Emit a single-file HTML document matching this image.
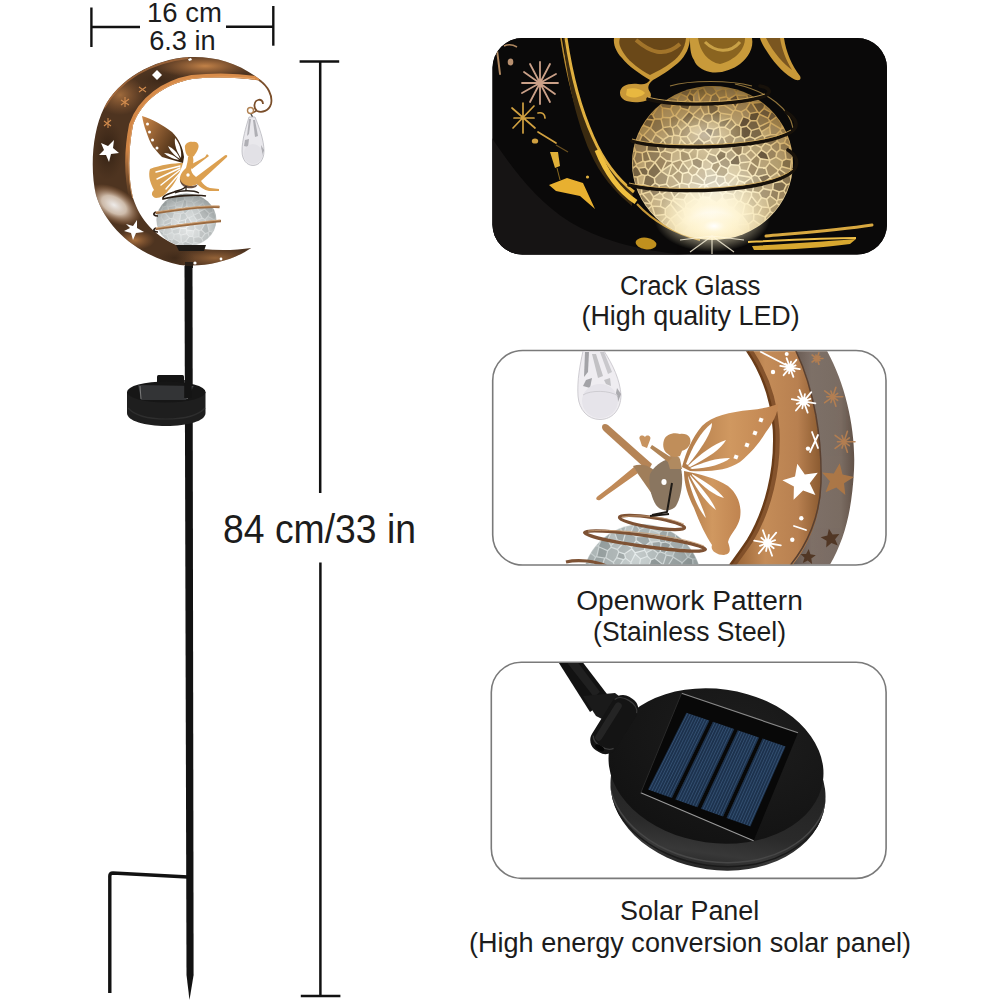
<!DOCTYPE html>
<html><head><meta charset="utf-8">
<style>
html,body{margin:0;padding:0;background:#fff;width:1000px;height:1000px;overflow:hidden}
svg{display:block}
text{font-family:"Liberation Sans",sans-serif;fill:#1c1c1c}
</style></head><body>
<svg width="1000" height="1000" viewBox="0 0 1000 1000">
<defs></defs>
<rect width="1000" height="1000" fill="#fff"/>

<!-- width dimension -->
<g stroke="#111" stroke-width="2.4" fill="none">
<line x1="91.4" y1="7.5" x2="91.4" y2="47"/>
<line x1="91.4" y1="27" x2="140" y2="27"/>
<line x1="226" y1="26.8" x2="273.5" y2="26.8"/>
<line x1="273.3" y1="6" x2="273.3" y2="45.7"/>
</g>
<text x="147" y="22.3" font-size="27" textLength="75" lengthAdjust="spacingAndGlyphs">16 cm</text>
<text x="149.2" y="50.2" font-size="27" textLength="66.5" lengthAdjust="spacingAndGlyphs">6.3 in</text>

<!-- height dimension -->
<g stroke="#111" stroke-width="2.5" fill="none">
<line x1="299.6" y1="61.4" x2="339.2" y2="61.4"/>
<line x1="320.2" y1="61.4" x2="320.2" y2="493"/>
<line x1="320.4" y1="562.5" x2="320.4" y2="996"/>
<line x1="300.8" y1="996" x2="340.4" y2="996"/>
</g>
<text x="223" y="543.1" font-size="40" textLength="193" lengthAdjust="spacingAndGlyphs">84 cm/33 in</text>

<!-- panels -->
<rect x="492.5" y="38" width="394.5" height="216.5" rx="30" fill="#0e0c0c"/>
<rect x="492.7" y="350.5" width="393.3" height="214.5" rx="30" fill="#fff" stroke="#7a7a7a" stroke-width="1.6"/>
<rect x="491.3" y="662.2" width="394.8" height="216.2" rx="30" fill="#fff" stroke="#7a7a7a" stroke-width="1.6"/>

<text x="620" y="294.8" font-size="27" textLength="140.5" lengthAdjust="spacingAndGlyphs">Crack Glass</text>
<text x="581.5" y="324.8" font-size="27" textLength="218.2" lengthAdjust="spacingAndGlyphs">(High quality LED)</text>
<text x="576.2" y="610.1" font-size="27" textLength="226.6" lengthAdjust="spacingAndGlyphs">Openwork Pattern</text>
<text x="593.1" y="641.3" font-size="27" textLength="193" lengthAdjust="spacingAndGlyphs">(Stainless Steel)</text>
<text x="620.1" y="920.4" font-size="27" textLength="139.2" lengthAdjust="spacingAndGlyphs">Solar Panel</text>
<text x="469" y="951.8" font-size="27" textLength="442" lengthAdjust="spacingAndGlyphs">(High energy conversion solar panel)</text>



<!-- PANEL 1 content -->
<defs>
<clipPath id="clip1"><rect x="492.5" y="38" width="394.5" height="216.5" rx="30"/></clipPath>
<radialGradient id="glowBall" cx="0.5" cy="0.7" r="0.7">
<stop offset="0" stop-color="#fffef4"/>
<stop offset="0.3" stop-color="#fbf0cc"/>
<stop offset="0.65" stop-color="#e8d098"/>
<stop offset="0.9" stop-color="#c49a50"/>
<stop offset="1" stop-color="#8a6a30"/>
</radialGradient>
<radialGradient id="glowSpot" cx="0.5" cy="0.5" r="0.5">
<stop offset="0" stop-color="#ffffff" stop-opacity="1"/>
<stop offset="0.4" stop-color="#fff6d8" stop-opacity="0.8"/>
<stop offset="1" stop-color="#fff0c0" stop-opacity="0"/>
</radialGradient>
<linearGradient id="goldG" x1="0" y1="0" x2="1" y2="0">
<stop offset="0" stop-color="#8a6020"/>
<stop offset="0.5" stop-color="#e0b040"/>
<stop offset="1" stop-color="#b88828"/>
</linearGradient>
</defs>
<g clip-path="url(#clip1)">
<rect x="490" y="36" width="400" height="220" fill="#0a0909"/>
<!-- subtle moon outer face -->
<path d="M492,138 C510,165 535,200 570,222 C600,240 640,252 700,256 L492,256Z" fill="#161414"/>
<!-- golden moon inner edge -->
<path d="M561,38 C566,70 574,105 586,135 C596,160 610,180 632,200" stroke="#b88a30" stroke-width="1.6" fill="none"/>
<path d="M566,38 C571,72 580,108 592,136 C602,158 614,176 633,190 L632,206 C615,192 600,175 590,152 C578,124 568,88 563,38Z" fill="#3a2a10"/>
<path d="M566,38 C571,72 580,108 593,137 C603,160 616,178 634,192" stroke="#e0b040" stroke-width="3" fill="none"/>
<path d="M597,150 C605,170 618,190 636,202" stroke="#f0c040" stroke-width="5" fill="none"/>
<path d="M637,204 C650,218 670,232 700,240" stroke="#c89838" stroke-width="2" fill="none"/>
<path d="M766,236 C800,233 840,230 872,225" stroke="#d8a840" stroke-width="3" fill="none" stroke-linecap="round"/>
<path d="M752,246 C780,244 820,242 856,239 L850,244 C820,248 785,250 754,250Z" fill="#d8a830"/>
<path d="M748,242 C790,240 830,238 856,238" stroke="#f0c048" stroke-width="2" fill="none"/>
<!-- stars and bits -->
<g stroke="#caa088" stroke-width="1.8" fill="none" stroke-linecap="round">
<path d="M524,72 L555,94 M556,74 L522,93 M540,62 L540,104 M530,64 L550,102 M550,64 L530,102 M522,83 L558,83"/>
</g>
<g stroke="#d0a040" stroke-width="1.7" fill="none" stroke-linecap="round">
<path d="M512,108 L535,128 M534,106 L513,128 M523,103 L523,133 M514,118 L534,118"/>
<path d="M538,132 L556,143"/>
<path d="M538,113 C542,112 545,114 545,118"/>
</g>
<path d="M497,50 L500,74" stroke="#b08860" stroke-width="2" stroke-linecap="round"/>
<path d="M504,46 C508,44 512,44 517,47" stroke="#b08860" stroke-width="1.5" fill="none"/>
<ellipse cx="510.5" cy="62" rx="2.8" ry="3.4" fill="#b89070"/>
<ellipse cx="535" cy="141" rx="3.2" ry="2.6" fill="#d0a040"/>
<path d="M556,145 L568,152" stroke="#6a5020" stroke-width="1.2"/>
<path d="M550,152 L558,152 L560,166 L555,168Z" fill="#e0b038"/>
<path d="M557,168 L560,180" stroke="#8a6a20" stroke-width="1"/>
<path d="M549,185 L567,178 L583,183 L595,209 L580,196 L556,191Z" fill="#e8b030"/>
<circle cx="587.5" cy="177" r="1.6" fill="#e0b040"/>
<ellipse cx="646" cy="243.5" rx="10.5" ry="5.8" transform="rotate(8 646 243.5)" fill="#c0901e"/>
<!-- fairy silhouette -->
<g>
<path d="M614,38 L690,38 C690,46 686,56 678,63 C670,70 660,76 653,80 C648,84 647,88 650,92 C653,97 649,101 640,102 C628,103 620,100 620,93 C620,86 628,83 638,84 C644,85 647,84 650,80 C640,74 628,66 622,58 C616,52 613,44 614,38Z" fill="#c89838"/>
<path d="M620,38 L686,38 C685,48 680,56 672,62 C664,68 656,72 650,75 C640,70 630,62 625,55 C620,48 618,43 620,38Z" fill="#6a4818"/>
<path d="M636,40 C650,52 664,58 680,44" stroke="#b08030" stroke-width="4" fill="none" opacity="0.8"/>
<path d="M627,89 C633,87 642,89 645,93 C641,98 630,99 626,95Z" fill="#e8b840"/>
<path d="M690,38 L752,38 C754,48 748,58 740,64 C732,70 720,74 710,72 C702,70 696,66 694,60 C690,54 690,46 690,38Z" fill="#c89a3a"/>
<path d="M698,38 L745,38 C745,50 735,60 720,64 C708,62 700,52 698,38Z" fill="#8a6420"/>
<path d="M705,42 C715,52 730,54 740,42" stroke="#d8b050" stroke-width="3" fill="none" opacity="0.8"/>
<path d="M760,38 L784,38 C786,52 792,66 800,76 C802,80 798,82 792,78 C782,72 772,60 766,50 C763,45 761,42 760,38Z" fill="#c89838"/>
<path d="M766,38 L780,38 C782,50 786,60 792,70 C784,64 774,54 766,38Z" fill="#7a5620"/>
</g>
<!-- glass ball -->
<ellipse cx="712.5" cy="163" rx="80.5" ry="77" fill="url(#glowBall)"/>
<g id="p1cells">
<path d="M696.9,88.5 L698.1,89.0 L701.8,87.4 L699.5,87.8 L696.9,88.2 L696.8,88.2Z" fill="#5a4830" fill-opacity="0.44"/>
<path d="M714.2,86.8 L716.6,90.3 L722.0,88.1 L721.8,87.3 L720.3,87.1 L717.7,86.9 L715.1,86.8Z" fill="#8a7450" fill-opacity="0.81"/>
<path d="M723.4,87.5 L723.5,88.0 L725.4,88.6 L726.9,88.0 L725.5,87.8Z" fill="#8a7450" fill-opacity="0.45"/>
<path d="M735.2,89.9 L736.3,91.3 L737.5,90.6 L735.7,90.0Z" fill="#5a4830" fill-opacity="0.51"/>
<path d="M672.8,96.9 L677.0,97.9 L679.9,93.8 L679.8,93.4 L679.6,93.6 L677.2,94.6 L674.9,95.8Z" fill="#8a7450" fill-opacity="0.45"/>
<path d="M681.4,93.4 L686.8,96.1 L688.9,92.8 L689.8,89.9 L689.3,90.0 L686.9,90.8 L684.4,91.6 L682.0,92.6 L681.2,92.9Z" fill="#5a4830" fill-opacity="0.66"/>
<path d="M693.4,94.5 L697.2,90.3 L696.1,89.8 L691.4,90.1 L690.5,92.8Z" fill="#5a4830" fill-opacity="0.58"/>
<path d="M700.2,99.7 L705.6,93.3 L703.0,88.6 L698.8,90.3 L698.8,90.4Z" fill="#4a3a26" fill-opacity="0.48"/>
<path d="M704.2,87.6 L707.0,92.8 L711.3,95.0 L715.2,92.6 L715.6,91.4 L712.8,87.5 L708.6,86.9 L707.3,86.9 L704.7,87.1 L704.5,87.1Z" fill="#6e5a3a" fill-opacity="0.69"/>
<path d="M717.0,91.8 L716.6,92.9 L719.7,97.2 L725.6,96.0 L724.8,89.9 L722.8,89.4Z" fill="#6e5a3a" fill-opacity="0.57"/>
<path d="M726.3,89.9 L727.2,96.2 L728.9,97.9 L729.1,97.9 L735.5,94.1 L735.4,92.6 L732.6,89.2 L730.6,88.7 L729.6,88.5Z" fill="#7a6444" fill-opacity="0.60"/>
<path d="M736.9,92.7 L737.0,94.3 L737.1,94.4 L746.2,94.8 L746.4,94.0 L745.4,93.6 L743.0,92.6 L740.6,91.6 L739.3,91.2Z" fill="#8a7450" fill-opacity="0.50"/>
<path d="M747.6,95.5 L749.4,101.1 L750.4,102.0 L751.1,102.0 L753.9,97.9 L752.4,97.0 L750.1,95.8 L747.8,94.6 L747.8,94.6Z" fill="#4a3a26" fill-opacity="0.72"/>
<path d="M668.7,99.3 L672.6,104.8 L677.6,103.2 L676.7,99.3 L670.9,97.9 L670.4,98.3Z" fill="#6e5a3a" fill-opacity="0.80"/>
<path d="M680.9,94.9 L678.1,98.9 L679.1,103.2 L679.4,103.5 L687.0,99.2 L686.4,97.6Z" fill="#7a6444" fill-opacity="0.57"/>
<path d="M687.9,97.1 L688.6,99.1 L691.8,101.7 L693.2,101.4 L692.8,95.9 L689.8,94.2Z" fill="#4a3a26" fill-opacity="0.79"/>
<path d="M694.7,101.3 L699.0,101.3 L697.5,92.1 L694.3,95.7Z" fill="#8a7450" fill-opacity="0.70"/>
<path d="M701.4,102.6 L707.8,102.8 L708.8,102.4 L710.5,96.2 L706.7,94.3 L700.5,101.7 L700.5,101.7Z" fill="#5a4830" fill-opacity="0.45"/>
<path d="M718.4,105.7 L718.4,105.6 L718.6,98.3 L715.6,94.1 L712.0,96.3 L710.4,102.5Z" fill="#6e5a3a" fill-opacity="0.85"/>
<path d="M726.3,97.4 L720.1,98.7 L720.0,105.1 L723.7,104.5 L727.6,98.7Z" fill="#5a4830" fill-opacity="0.52"/>
<path d="M736.1,95.5 L730.3,98.9 L735.3,106.6 L738.1,101.5Z" fill="#4a3a26" fill-opacity="0.83"/>
<path d="M747.7,100.8 L746.2,96.3 L737.8,95.9 L739.5,100.8Z" fill="#5a4830" fill-opacity="0.46"/>
<path d="M752.7,102.3 L759.9,101.7 L759.0,101.0 L756.8,99.6 L755.2,98.6Z" fill="#8a7450" fill-opacity="0.48"/>
<path d="M655.0,110.2 L654.3,110.9 L652.5,112.7 L651.9,113.4 L652.0,113.6 L652.5,113.9Z" fill="#5a4830" fill-opacity="0.60"/>
<path d="M661.0,104.9 L662.7,107.2 L670.2,108.3 L671.4,105.7 L667.5,100.1 L665.1,101.7 L663.9,102.5 L661.9,104.1 L661.0,104.8Z" fill="#5a4830" fill-opacity="0.66"/>
<path d="M671.5,109.1 L674.2,114.9 L675.2,115.0 L680.1,108.1 L678.7,104.8 L678.3,104.5 L672.8,106.3Z" fill="#6e5a3a" fill-opacity="0.43"/>
<path d="M680.3,104.7 L681.5,107.6 L688.0,109.3 L690.7,102.8 L687.9,100.4Z" fill="#4a3a26" fill-opacity="0.76"/>
<path d="M694.1,102.8 L692.1,103.2 L689.2,110.2 L689.5,110.9 L693.0,113.6 L699.8,107.2 L700.2,103.6 L699.4,102.8Z" fill="#8a7450" fill-opacity="0.65"/>
<path d="M707.3,104.3 L701.7,104.1 L701.3,107.4 L704.6,113.7 L708.2,112.9Z" fill="#5a4830" fill-opacity="0.45"/>
<path d="M717.5,109.9 L717.7,107.0 L709.5,103.7 L708.8,104.1 L709.7,113.0 L711.5,113.8Z" fill="#4a3a26" fill-opacity="0.68"/>
<path d="M732.5,111.4 L724.0,106.0 L719.5,106.6 L719.3,106.9 L719.0,110.2 L720.7,112.4 L731.0,114.1Z" fill="#8a7450" fill-opacity="0.58"/>
<path d="M728.9,99.4 L725.2,105.0 L733.5,110.2 L734.5,109.6 L734.6,108.3Z" fill="#8a7450" fill-opacity="0.56"/>
<path d="M745.5,108.6 L749.1,102.9 L748.4,102.3 L739.4,102.3 L736.1,108.3 L736.0,109.4 L741.1,111.0Z" fill="#7a6444" fill-opacity="0.62"/>
<path d="M750.4,112.7 L756.6,111.5 L751.5,103.7 L751.3,103.5 L750.5,103.5 L747.0,109.1Z" fill="#5a4830" fill-opacity="0.65"/>
<path d="M758.3,111.4 L759.3,112.1 L763.3,108.1 L764.0,105.5 L763.2,104.1 L763.1,104.1 L761.8,103.1 L753.4,103.8Z" fill="#4a3a26" fill-opacity="0.74"/>
<path d="M765.5,106.1 L764.8,108.2 L770.8,111.4 L771.1,111.3 L770.7,110.9 L768.9,109.1 L767.0,107.4 L765.5,106.0Z" fill="#7a6444" fill-opacity="0.50"/>
<path d="M647.7,118.6 L653.5,119.3 L653.8,119.0 L652.1,115.4 L651.0,114.7 L650.8,114.7 L649.2,116.6Z" fill="#4a3a26" fill-opacity="0.85"/>
<path d="M660.7,118.3 L661.9,117.3 L661.5,108.2 L659.9,106.0 L659.5,106.2 L653.5,115.0 L655.2,118.3Z" fill="#7a6444" fill-opacity="0.58"/>
<path d="M670.0,117.0 L672.8,115.3 L670.1,109.8 L663.0,108.8 L663.4,116.8Z" fill="#8a7450" fill-opacity="0.58"/>
<path d="M681.3,109.1 L676.5,115.7 L679.9,118.9 L681.2,119.1 L688.1,111.2 L687.9,110.9Z" fill="#7a6444" fill-opacity="0.46"/>
<path d="M689.0,112.4 L682.6,119.8 L687.4,123.8 L692.9,116.1 L692.5,115.1Z" fill="#4a3a26" fill-opacity="0.68"/>
<path d="M700.3,108.8 L694.0,114.8 L694.3,115.7 L700.1,118.9 L700.6,118.6 L703.4,114.5Z" fill="#7a6444" fill-opacity="0.62"/>
<path d="M708.9,114.3 L704.7,115.2 L702.2,119.0 L708.0,122.3 L711.6,120.2 L710.9,115.1Z" fill="#7a6444" fill-opacity="0.79"/>
<path d="M713.1,120.1 L718.2,122.8 L719.4,120.9 L719.6,113.3 L718.0,111.4 L712.4,115.0Z" fill="#4a3a26" fill-opacity="0.60"/>
<path d="M730.6,115.5 L721.0,114.0 L720.9,120.2 L730.5,117.6Z" fill="#8a7450" fill-opacity="0.52"/>
<path d="M735.3,110.8 L734.1,111.6 L732.1,115.1 L732.0,118.0 L732.1,118.4 L736.6,124.0 L738.6,124.6 L742.3,116.5 L740.6,112.4Z" fill="#8a7450" fill-opacity="0.53"/>
<path d="M743.7,116.0 L748.4,117.7 L749.3,113.7 L745.9,110.1 L742.2,112.1Z" fill="#8a7450" fill-opacity="0.71"/>
<path d="M758.8,114.2 L758.7,113.5 L757.6,112.8 L750.7,114.1 L749.7,118.5 L750.9,120.1 L756.2,120.0Z" fill="#4a3a26" fill-opacity="0.82"/>
<path d="M767.7,117.2 L769.8,112.6 L764.1,109.4 L760.2,113.3 L760.2,113.7Z" fill="#5a4830" fill-opacity="0.83"/>
<path d="M771.4,112.8 L768.9,118.2 L770.1,120.5 L775.8,116.6 L775.8,116.6 L774.2,114.6 L772.5,112.7 L772.2,112.5Z" fill="#5a4830" fill-opacity="0.85"/>
<path d="M644.4,125.1 L650.0,127.3 L652.8,120.7 L646.7,119.9 L646.2,120.7 L644.8,122.7 L644.2,123.7Z" fill="#4a3a26" fill-opacity="0.67"/>
<path d="M651.4,128.0 L655.6,132.3 L661.9,128.4 L662.4,127.5 L660.4,119.8 L655.0,119.8 L654.5,120.5Z" fill="#5a4830" fill-opacity="0.61"/>
<path d="M663.7,126.8 L669.7,125.9 L669.5,118.5 L662.9,118.3 L661.8,119.3Z" fill="#5a4830" fill-opacity="0.41"/>
<path d="M676.5,124.4 L678.7,119.8 L675.2,116.5 L673.9,116.4 L671.0,118.2 L671.2,126.1 L672.4,127.0Z" fill="#4a3a26" fill-opacity="0.47"/>
<path d="M677.9,124.8 L681.5,129.3 L686.4,125.0 L681.2,120.6 L680.0,120.4Z" fill="#7a6444" fill-opacity="0.55"/>
<path d="M688.5,124.9 L690.0,126.3 L697.9,124.4 L699.1,120.0 L694.0,117.2Z" fill="#6e5a3a" fill-opacity="0.66"/>
<path d="M701.1,120.1 L700.6,120.3 L699.4,124.9 L702.2,130.7 L704.3,130.4 L706.8,127.7 L707.2,123.6Z" fill="#7a6444" fill-opacity="0.77"/>
<path d="M708.7,123.6 L708.3,127.4 L713.8,128.5 L718.4,126.3 L717.9,124.3 L712.5,121.5Z" fill="#8a7450" fill-opacity="0.54"/>
<path d="M720.7,121.8 L719.3,123.9 L719.9,126.4 L719.9,126.4 L724.4,126.5 L730.1,119.2Z" fill="#4a3a26" fill-opacity="0.65"/>
<path d="M731.5,120.0 L725.8,127.0 L729.9,129.5 L735.1,124.6Z" fill="#5a4830" fill-opacity="0.56"/>
<path d="M739.9,125.3 L741.2,126.5 L746.3,125.5 L749.6,120.8 L748.4,119.3 L743.5,117.5Z" fill="#4a3a26" fill-opacity="0.83"/>
<path d="M756.2,121.5 L750.9,121.6 L747.7,126.1 L751.6,129.7 L758.7,127.6 L758.7,126.8Z" fill="#5a4830" fill-opacity="0.79"/>
<path d="M768.9,121.3 L767.6,118.8 L759.9,115.3 L757.5,120.7 L759.9,125.6Z" fill="#6e5a3a" fill-opacity="0.69"/>
<path d="M760.1,128.0 L761.7,130.8 L768.9,126.3 L769.8,122.9 L769.6,122.6 L760.2,127.1Z" fill="#6e5a3a" fill-opacity="0.75"/>
<path d="M770.9,121.8 L771.2,122.3 L780.7,128.1 L781.2,127.7 L781.6,125.0 L781.6,124.9 L780.2,122.7 L778.8,120.7 L777.3,118.6 L776.7,117.8Z" fill="#6e5a3a" fill-opacity="0.52"/>
<path d="M782.7,127.5 L783.1,127.5 L782.8,127.1 L782.8,127.0Z" fill="#8a7450" fill-opacity="0.42"/>
<path d="M643.1,134.7 L648.8,128.5 L643.8,126.4 L642.0,127.3 L641.0,129.3 L639.9,131.5 L639.7,132.0 L642.2,134.8Z" fill="#6e5a3a" fill-opacity="0.44"/>
<path d="M644.6,135.3 L650.9,140.5 L651.2,140.4 L654.8,134.2 L654.7,133.6 L650.3,129.1Z" fill="#7a6444" fill-opacity="0.59"/>
<path d="M656.3,133.9 L663.2,138.8 L667.6,136.1 L662.3,129.9 L656.2,133.7Z" fill="#7a6444" fill-opacity="0.45"/>
<path d="M669.1,135.5 L672.3,135.6 L673.1,135.0 L671.7,128.3 L670.3,127.3 L663.7,128.3 L663.4,128.8Z" fill="#4a3a26" fill-opacity="0.52"/>
<path d="M678.9,135.0 L680.5,130.5 L676.9,125.9 L673.2,128.2 L674.6,134.6Z" fill="#7a6444" fill-opacity="0.64"/>
<path d="M680.8,135.9 L686.8,135.8 L690.1,131.7 L689.1,127.5 L687.5,126.0 L682.0,130.8 L680.3,135.5Z" fill="#7a6444" fill-opacity="0.78"/>
<path d="M700.9,131.4 L698.2,125.9 L690.7,127.7 L691.5,131.3 L698.5,134.3Z" fill="#8a7450" fill-opacity="0.41"/>
<path d="M710.9,136.1 L712.9,129.8 L707.8,128.8 L705.8,131.1Z" fill="#4a3a26" fill-opacity="0.84"/>
<path d="M718.9,127.7 L714.5,129.8 L712.4,136.2 L719.7,135.4Z" fill="#5a4830" fill-opacity="0.60"/>
<path d="M721.3,135.8 L721.5,136.0 L723.5,136.8 L729.3,133.9 L729.3,130.8 L724.5,128.0 L720.4,127.9Z" fill="#7a6444" fill-opacity="0.43"/>
<path d="M736.3,125.5 L730.8,130.7 L730.8,134.0 L735.1,137.1 L740.1,135.6 L740.2,127.6 L738.7,126.1Z" fill="#6e5a3a" fill-opacity="0.79"/>
<path d="M741.6,135.9 L744.5,138.1 L749.3,136.1 L750.6,130.8 L746.5,127.0 L741.7,127.9Z" fill="#4a3a26" fill-opacity="0.80"/>
<path d="M759.0,129.0 L752.0,131.1 L750.8,136.2 L754.9,137.9 L761.6,134.7 L760.7,132.1Z" fill="#5a4830" fill-opacity="0.75"/>
<path d="M762.3,132.1 L763.2,134.6 L764.6,135.7 L769.7,134.1 L768.9,128.0Z" fill="#8a7450" fill-opacity="0.41"/>
<path d="M770.3,126.9 L771.2,134.0 L776.0,134.1 L779.4,130.6 L779.9,129.3 L771.1,124.0Z" fill="#8a7450" fill-opacity="0.72"/>
<path d="M782.1,128.9 L781.4,129.4 L780.9,130.8 L786.4,137.4 L787.6,137.3 L787.1,136.2 L786.2,133.8 L785.1,131.5 L784.0,129.3 L784.0,129.2Z" fill="#5a4830" fill-opacity="0.51"/>
<path d="M635.8,142.2 L638.6,141.2 L641.0,135.7 L639.0,133.4 L638.8,133.8 L637.9,136.2 L637.0,138.5 L636.2,140.9Z" fill="#7a6444" fill-opacity="0.53"/>
<path d="M647.0,144.1 L649.6,141.5 L643.3,136.1 L642.4,136.3 L640.1,141.4Z" fill="#4a3a26" fill-opacity="0.68"/>
<path d="M652.6,140.9 L657.5,145.5 L662.1,139.9 L655.8,135.4Z" fill="#8a7450" fill-opacity="0.82"/>
<path d="M664.2,140.0 L666.9,145.0 L671.2,143.2 L671.7,137.1 L669.0,137.0Z" fill="#5a4830" fill-opacity="0.47"/>
<path d="M680.0,139.2 L679.8,137.0 L679.1,136.5 L674.2,136.1 L673.2,136.8 L672.7,143.5 L677.3,148.1Z" fill="#8a7450" fill-opacity="0.55"/>
<path d="M686.8,144.4 L690.4,142.9 L686.7,137.3 L681.3,137.4 L681.5,139.0Z" fill="#8a7450" fill-opacity="0.64"/>
<path d="M698.0,137.6 L698.0,135.7 L691.1,132.8 L688.0,136.6 L692.0,142.7 L692.3,142.7Z" fill="#8a7450" fill-opacity="0.62"/>
<path d="M702.2,132.2 L699.5,135.4 L699.5,137.6 L704.2,141.7 L709.6,139.5 L710.2,137.5 L704.5,131.9Z" fill="#7a6444" fill-opacity="0.69"/>
<path d="M711.0,139.9 L714.5,144.7 L716.0,144.8 L720.1,136.9 L711.6,137.8Z" fill="#7a6444" fill-opacity="0.52"/>
<path d="M717.4,145.4 L719.6,147.0 L724.7,142.6 L723.0,138.2 L721.4,137.6Z" fill="#5a4830" fill-opacity="0.60"/>
<path d="M726.2,142.3 L731.4,145.3 L734.1,138.2 L730.0,135.3 L724.5,137.9Z" fill="#8a7450" fill-opacity="0.79"/>
<path d="M732.8,145.7 L742.4,145.3 L744.1,143.3 L743.7,139.4 L740.7,137.0 L735.6,138.5Z" fill="#4a3a26" fill-opacity="0.41"/>
<path d="M745.5,143.1 L750.4,146.1 L754.2,143.9 L754.2,139.2 L749.9,137.4 L745.2,139.4Z" fill="#4a3a26" fill-opacity="0.59"/>
<path d="M755.7,139.2 L755.7,143.9 L761.2,146.6 L764.3,142.7 L763.8,136.9 L762.5,135.9Z" fill="#6e5a3a" fill-opacity="0.65"/>
<path d="M765.3,137.0 L765.8,142.5 L770.8,144.8 L776.4,141.0 L775.6,135.6 L770.6,135.4Z" fill="#5a4830" fill-opacity="0.66"/>
<path d="M785.3,138.3 L780.0,132.1 L777.1,135.1 L777.9,141.0 L780.2,143.1 L783.8,142.2Z" fill="#8a7450" fill-opacity="0.54"/>
<path d="M788.1,138.8 L786.6,138.9 L785.3,142.6 L789.7,145.3 L790.0,145.0 L789.5,143.3 L788.8,140.9Z" fill="#6e5a3a" fill-opacity="0.57"/>
<path d="M633.8,150.4 L634.4,150.2 L634.1,149.3Z" fill="#7a6444" fill-opacity="0.80"/>
<path d="M636.0,150.3 L636.5,151.1 L642.1,152.1 L646.0,150.4 L646.4,145.5 L639.1,142.6 L635.3,144.0 L634.8,145.7 L634.7,146.4Z" fill="#7a6444" fill-opacity="0.71"/>
<path d="M647.5,150.4 L658.4,151.1 L656.9,147.1 L651.5,141.9 L651.2,142.0 L647.9,145.3Z" fill="#4a3a26" fill-opacity="0.76"/>
<path d="M665.7,146.0 L663.1,141.1 L658.4,146.8 L660.1,151.5 L660.5,151.9 L663.8,150.3Z" fill="#5a4830" fill-opacity="0.61"/>
<path d="M676.8,149.7 L671.7,144.6 L667.1,146.6 L665.4,150.4 L671.8,152.3Z" fill="#8a7450" fill-opacity="0.51"/>
<path d="M678.5,149.5 L680.2,150.5 L682.0,150.1 L685.6,145.4 L681.1,140.8Z" fill="#6e5a3a" fill-opacity="0.44"/>
<path d="M691.6,144.1 L687.1,145.9 L683.6,150.4 L688.5,152.3 L693.4,147.7 L691.9,144.2Z" fill="#8a7450" fill-opacity="0.52"/>
<path d="M694.9,147.3 L697.9,149.3 L702.7,147.9 L703.3,142.9 L698.7,139.0 L693.4,143.8Z" fill="#5a4830" fill-opacity="0.78"/>
<path d="M704.8,143.1 L704.2,148.2 L708.4,151.6 L713.1,145.4 L709.9,141.0Z" fill="#7a6444" fill-opacity="0.62"/>
<path d="M714.4,146.2 L709.3,152.8 L709.3,152.9 L715.6,155.0 L719.5,150.1 L718.9,148.4 L716.2,146.3Z" fill="#6e5a3a" fill-opacity="0.39"/>
<path d="M720.5,148.2 L721.0,149.7 L726.2,152.1 L730.7,149.0 L731.0,146.8 L725.7,143.7Z" fill="#7a6444" fill-opacity="0.41"/>
<path d="M741.3,153.3 L741.9,146.9 L732.5,147.3 L732.2,149.2 L737.0,154.3 L738.8,154.9Z" fill="#7a6444" fill-opacity="0.83"/>
<path d="M745.2,153.6 L750.1,149.4 L749.8,147.5 L745.0,144.6 L743.5,146.4 L742.8,153.1Z" fill="#8a7450" fill-opacity="0.52"/>
<path d="M756.4,154.2 L760.6,149.6 L760.6,148.0 L755.0,145.2 L751.3,147.4 L751.6,149.3Z" fill="#6e5a3a" fill-opacity="0.44"/>
<path d="M770.8,148.2 L770.2,146.2 L765.3,143.9 L762.1,147.8 L762.1,149.5 L766.7,152.5Z" fill="#8a7450" fill-opacity="0.61"/>
<path d="M777.1,142.3 L771.7,146.0 L772.2,148.0 L776.7,151.5 L779.3,149.3 L779.2,144.2Z" fill="#4a3a26" fill-opacity="0.44"/>
<path d="M784.3,143.7 L780.7,144.5 L780.8,149.1 L784.9,150.4 L789.2,147.7 L789.1,146.7Z" fill="#4a3a26" fill-opacity="0.50"/>
<path d="M632.9,158.0 L633.3,158.0 L635.2,151.9 L635.0,151.6 L633.6,152.1 L633.4,153.1 L633.1,155.5Z" fill="#5a4830" fill-opacity="0.57"/>
<path d="M634.6,158.7 L636.8,163.2 L642.1,160.7 L641.5,153.5 L636.6,152.6Z" fill="#7a6444" fill-opacity="0.81"/>
<path d="M646.5,151.8 L643.0,153.3 L643.6,160.6 L645.1,161.1 L649.7,160.1Z" fill="#6e5a3a" fill-opacity="0.76"/>
<path d="M659.3,155.8 L659.6,153.1 L659.1,152.6 L648.2,151.9 L651.3,160.1 L654.7,161.6Z" fill="#5a4830" fill-opacity="0.61"/>
<path d="M664.5,151.7 L661.1,153.3 L660.9,155.7 L666.8,160.0 L670.5,160.6 L671.1,153.7Z" fill="#7a6444" fill-opacity="0.61"/>
<path d="M679.3,151.7 L677.8,150.8 L672.6,153.6 L671.9,161.2 L672.3,161.5 L679.8,159.2Z" fill="#8a7450" fill-opacity="0.42"/>
<path d="M690.2,158.9 L688.1,153.8 L682.4,151.5 L680.9,151.9 L681.3,159.4 L683.0,161.0Z" fill="#6e5a3a" fill-opacity="0.57"/>
<path d="M689.6,153.4 L691.8,158.9 L696.3,157.3 L697.0,150.5 L694.4,148.8Z" fill="#8a7450" fill-opacity="0.52"/>
<path d="M698.5,150.7 L697.8,157.4 L702.7,160.0 L705.3,158.4 L707.9,153.4 L707.8,153.1 L703.2,149.3Z" fill="#8a7450" fill-opacity="0.44"/>
<path d="M706.9,158.8 L712.6,163.1 L717.6,161.2 L715.3,156.5 L709.1,154.4Z" fill="#4a3a26" fill-opacity="0.42"/>
<path d="M716.8,155.9 L719.0,160.7 L725.1,156.9 L725.5,153.4 L720.6,151.2Z" fill="#5a4830" fill-opacity="0.69"/>
<path d="M731.3,150.4 L727.0,153.3 L726.6,157.1 L729.9,160.1 L735.5,154.9Z" fill="#5a4830" fill-opacity="0.43"/>
<path d="M740.8,162.1 L749.9,161.1 L750.0,160.6 L745.0,155.1 L742.2,154.5 L739.8,156.1Z" fill="#5a4830" fill-opacity="0.39"/>
<path d="M750.9,159.3 L755.2,155.1 L750.8,150.7 L746.5,154.5Z" fill="#7a6444" fill-opacity="0.52"/>
<path d="M766.3,153.9 L761.4,150.9 L757.7,155.0 L760.6,158.1 L768.4,159.2Z" fill="#4a3a26" fill-opacity="0.80"/>
<path d="M770.0,159.2 L775.3,156.7 L775.9,152.8 L771.7,149.4 L767.7,153.6Z" fill="#8a7450" fill-opacity="0.82"/>
<path d="M780.2,150.5 L777.5,152.9 L776.8,156.8 L782.3,160.0 L785.2,158.6 L784.3,151.8Z" fill="#7a6444" fill-opacity="0.50"/>
<path d="M789.8,149.0 L785.8,151.6 L786.7,158.4 L790.7,158.9 L792.0,156.6 L791.9,155.5 L791.6,153.1 L791.2,150.6 L791.1,150.4Z" fill="#5a4830" fill-opacity="0.56"/>
<path d="M633.1,166.8 L635.3,165.5 L635.6,164.3 L633.4,159.5 L632.8,159.5 L632.8,160.5 L632.8,163.0 L632.8,165.5 L632.9,166.8Z" fill="#6e5a3a" fill-opacity="0.83"/>
<path d="M644.4,162.5 L643.0,162.0 L637.0,164.7 L636.8,165.7 L638.6,167.4 L644.7,166.7Z" fill="#7a6444" fill-opacity="0.41"/>
<path d="M648.3,169.5 L653.8,162.8 L650.7,161.5 L645.9,162.5 L646.2,167.0Z" fill="#7a6444" fill-opacity="0.71"/>
<path d="M655.9,162.5 L661.2,170.0 L665.6,161.0 L660.2,157.1Z" fill="#8a7450" fill-opacity="0.83"/>
<path d="M670.8,162.1 L667.0,161.6 L663.5,168.8 L671.3,163.5 L671.3,162.6Z" fill="#7a6444" fill-opacity="0.68"/>
<path d="M678.3,170.0 L682.1,162.5 L682.1,162.2 L680.4,160.6 L672.8,162.9 L672.8,163.5Z" fill="#8a7450" fill-opacity="0.66"/>
<path d="M688.6,168.5 L691.7,164.9 L691.0,160.3 L683.6,162.4 L683.6,162.4Z" fill="#8a7450" fill-opacity="0.42"/>
<path d="M699.2,168.1 L701.4,167.1 L702.0,161.3 L697.0,158.7 L692.5,160.2 L693.2,164.6Z" fill="#5a4830" fill-opacity="0.53"/>
<path d="M705.5,169.1 L710.3,167.8 L711.6,164.3 L705.9,159.9 L703.5,161.3 L702.9,167.2Z" fill="#7a6444" fill-opacity="0.30"/>
<path d="M715.9,171.9 L719.8,165.6 L718.3,162.5 L713.1,164.6 L711.8,168.2Z" fill="#6e5a3a" fill-opacity="0.54"/>
<path d="M725.7,158.3 L719.7,162.0 L721.3,165.1 L727.4,167.8 L729.9,164.6 L729.3,161.5Z" fill="#5a4830" fill-opacity="0.47"/>
<path d="M736.7,155.8 L730.8,161.4 L731.3,164.1 L738.6,164.5 L739.5,162.8 L738.3,156.3Z" fill="#4a3a26" fill-opacity="0.68"/>
<path d="M740.7,163.6 L739.9,165.3 L741.1,169.3 L746.9,169.9 L749.7,162.6Z" fill="#6e5a3a" fill-opacity="0.41"/>
<path d="M756.5,155.9 L751.5,160.7 L751.3,161.7 L751.3,161.8 L758.0,166.7 L759.5,159.1Z" fill="#8a7450" fill-opacity="0.80"/>
<path d="M760.9,159.7 L759.6,166.7 L765.4,167.1 L768.7,162.8 L768.9,160.8Z" fill="#8a7450" fill-opacity="0.55"/>
<path d="M770.2,162.7 L778.4,169.2 L779.1,168.8 L780.9,166.3 L781.5,161.3 L775.9,158.0 L770.4,160.7Z" fill="#6e5a3a" fill-opacity="0.44"/>
<path d="M786.2,159.8 L783.0,161.4 L782.4,166.0 L789.8,167.9 L790.7,160.4Z" fill="#6e5a3a" fill-opacity="0.81"/>
<path d="M792.1,161.3 L791.2,168.7 L791.7,169.6 L791.9,169.5 L792.1,168.0 L792.2,165.5 L792.2,163.0 L792.2,161.3Z" fill="#5a4830" fill-opacity="0.39"/>
<path d="M637.2,176.3 L640.8,174.4 L637.7,168.7 L635.9,166.9 L633.8,168.2 L633.1,169.9 L633.1,170.5 L633.4,172.9 L633.8,175.4 L633.9,176.0Z" fill="#5a4830" fill-opacity="0.80"/>
<path d="M639.5,168.8 L642.3,174.0 L645.0,174.8 L647.1,174.2 L647.5,170.9 L645.1,168.1Z" fill="#4a3a26" fill-opacity="0.70"/>
<path d="M648.6,174.3 L654.1,177.2 L660.3,171.3 L654.9,163.8 L649.0,170.9Z" fill="#5a4830" fill-opacity="0.73"/>
<path d="M662.5,171.3 L668.1,174.7 L670.7,165.7Z" fill="#5a4830" fill-opacity="0.37"/>
<path d="M672.4,165.3 L669.5,175.0 L671.8,175.0 L677.0,170.8Z" fill="#6e5a3a" fill-opacity="0.49"/>
<path d="M679.6,170.6 L682.8,172.7 L687.7,171.6 L687.9,169.9 L683.0,164.1Z" fill="#5a4830" fill-opacity="0.44"/>
<path d="M689.4,170.0 L689.1,171.9 L692.3,174.7 L695.5,173.6 L698.1,169.2 L692.6,166.1Z" fill="#8a7450" fill-opacity="0.46"/>
<path d="M697.0,174.1 L704.0,179.9 L705.6,176.2 L704.7,170.4 L702.0,168.4 L699.7,169.5Z" fill="#7a6444" fill-opacity="0.36"/>
<path d="M707.0,175.5 L715.5,174.1 L715.4,173.5 L710.7,169.3 L706.2,170.5Z" fill="#4a3a26" fill-opacity="0.22"/>
<path d="M724.0,175.9 L727.4,172.4 L726.9,169.2 L721.0,166.6 L716.9,173.2 L717.0,174.4 L717.6,175.3Z" fill="#6e5a3a" fill-opacity="0.45"/>
<path d="M737.1,174.6 L739.7,169.9 L738.5,166.0 L731.0,165.6 L728.4,168.9 L728.9,172.2 L735.9,175.3 L736.5,175.4Z" fill="#8a7450" fill-opacity="0.29"/>
<path d="M751.2,176.4 L747.0,171.4 L740.9,170.8 L738.9,174.5 L751.1,176.6Z" fill="#4a3a26" fill-opacity="0.28"/>
<path d="M748.2,170.6 L752.3,175.4 L754.2,174.5 L757.2,167.9 L751.0,163.4Z" fill="#7a6444" fill-opacity="0.68"/>
<path d="M758.7,168.2 L755.8,174.7 L758.2,175.7 L766.6,173.7 L765.1,168.6 L758.8,168.2Z" fill="#5a4830" fill-opacity="0.52"/>
<path d="M766.5,168.1 L768.2,173.9 L770.4,176.2 L776.7,171.8 L777.4,170.3 L769.5,164.1Z" fill="#7a6444" fill-opacity="0.64"/>
<path d="M779.5,170.3 L778.9,170.6 L778.1,172.2 L781.9,177.6 L784.8,174.1Z" fill="#7a6444" fill-opacity="0.82"/>
<path d="M781.9,167.4 L780.6,169.2 L786.1,173.2 L789.1,173.3 L790.4,170.4 L789.9,169.5Z" fill="#8a7450" fill-opacity="0.73"/>
<path d="M791.0,176.3 L791.2,175.4 L791.6,172.9 L791.8,171.1 L791.7,171.1 L790.4,174.1Z" fill="#6e5a3a" fill-opacity="0.42"/>
<path d="M636.0,184.5 L637.6,183.9 L636.7,177.8 L634.2,177.5 L634.3,177.9 L634.8,180.3 L635.5,182.7Z" fill="#7a6444" fill-opacity="0.71"/>
<path d="M642.4,183.9 L644.1,176.1 L641.9,175.5 L638.2,177.5 L639.1,183.7 L641.8,184.2Z" fill="#8a7450" fill-opacity="0.39"/>
<path d="M653.6,178.6 L647.7,175.6 L645.6,176.2 L643.9,183.9 L650.5,186.1 L654.2,182.8Z" fill="#5a4830" fill-opacity="0.73"/>
<path d="M659.2,184.6 L665.9,183.5 L667.6,176.2 L661.4,172.3 L655.1,178.4 L655.7,182.6Z" fill="#5a4830" fill-opacity="0.49"/>
<path d="M669.1,176.5 L667.3,184.0 L669.9,186.9 L678.3,183.6 L671.7,176.5Z" fill="#7a6444" fill-opacity="0.41"/>
<path d="M678.4,171.6 L673.2,175.8 L679.7,182.9 L680.9,182.5 L681.8,173.9 L678.4,171.6Z" fill="#7a6444" fill-opacity="0.55"/>
<path d="M683.3,174.2 L682.5,182.4 L688.2,183.8 L690.2,181.9 L691.4,175.9 L688.1,173.1Z" fill="#7a6444" fill-opacity="0.38"/>
<path d="M692.8,176.2 L691.8,181.7 L702.1,184.1 L703.8,183.7 L703.6,181.5 L695.9,175.1Z" fill="#6e5a3a" fill-opacity="0.32"/>
<path d="M705.7,184.3 L714.9,180.4 L716.3,176.1 L715.9,175.5 L706.9,177.0 L705.1,181.2 L705.3,183.9Z" fill="#4a3a26" fill-opacity="0.25"/>
<path d="M719.4,185.0 L724.6,181.4 L723.7,177.4 L717.7,176.8 L716.4,180.9Z" fill="#4a3a26" fill-opacity="0.23"/>
<path d="M726.1,181.3 L728.1,182.9 L734.4,176.3 L728.4,173.6 L725.1,176.9Z" fill="#8a7450" fill-opacity="0.30"/>
<path d="M737.9,180.6 L736.3,176.9 L736.0,176.9 L729.1,184.1 L729.7,185.5 L735.0,186.2Z" fill="#6e5a3a" fill-opacity="0.22"/>
<path d="M750.0,177.9 L738.1,175.9 L737.7,176.3 L739.3,180.0 L744.4,181.8Z" fill="#4a3a26" fill-opacity="0.27"/>
<path d="M754.4,183.4 L761.3,182.9 L757.6,177.1 L754.8,175.9 L752.6,176.8 L752.2,177.7 L752.2,177.9Z" fill="#4a3a26" fill-opacity="0.38"/>
<path d="M769.6,177.5 L769.6,177.5 L767.3,175.1 L759.3,177.0 L762.7,182.2Z" fill="#4a3a26" fill-opacity="0.66"/>
<path d="M781.1,179.1 L777.1,173.4 L771.1,177.6 L771.1,177.7 L773.8,182.1 L781.4,180.9Z" fill="#8a7450" fill-opacity="0.54"/>
<path d="M790.0,178.0 L789.0,174.8 L786.2,174.7 L782.6,179.1 L782.9,181.1 L786.7,184.0 L789.5,183.0 L789.5,182.7 L790.0,181.0Z" fill="#5a4830" fill-opacity="0.67"/>
<path d="M639.7,194.1 L640.9,193.4 L641.1,185.6 L638.5,185.1 L636.5,186.0 L637.0,187.5 L637.9,189.8 L638.8,192.2Z" fill="#8a7450" fill-opacity="0.55"/>
<path d="M642.4,193.1 L649.2,190.9 L649.8,187.5 L643.1,185.2 L642.6,185.4Z" fill="#4a3a26" fill-opacity="0.61"/>
<path d="M659.0,192.8 L658.3,185.8 L655.1,184.0 L651.3,187.4 L650.7,191.3 L653.7,195.8Z" fill="#4a3a26" fill-opacity="0.54"/>
<path d="M662.1,193.5 L669.0,188.7 L669.0,188.0 L666.2,185.0 L659.9,186.0 L660.5,192.7Z" fill="#7a6444" fill-opacity="0.56"/>
<path d="M678.8,191.9 L678.7,185.0 L670.5,188.2 L670.5,188.9 L674.3,196.5Z" fill="#5a4830" fill-opacity="0.41"/>
<path d="M680.2,184.4 L680.3,191.6 L687.3,193.2 L689.3,192.2 L689.3,192.1 L687.8,185.2 L681.7,183.8Z" fill="#6e5a3a" fill-opacity="0.28"/>
<path d="M690.6,191.1 L696.9,189.0 L700.6,185.3 L691.2,183.1 L689.3,184.9Z" fill="#7a6444" fill-opacity="0.24"/>
<path d="M701.7,196.4 L704.5,185.2 L704.4,185.1 L702.4,185.5 L698.2,189.8 L701.2,196.8Z" fill="#7a6444" fill-opacity="0.19"/>
<path d="M718.2,190.6 L718.4,186.3 L715.3,181.9 L707.1,185.3 L712.7,190.5Z" fill="#6e5a3a" fill-opacity="0.20"/>
<path d="M728.4,186.1 L727.6,184.4 L725.4,182.7 L719.9,186.5 L719.7,191.0 L722.5,193.7 L724.8,192.3Z" fill="#6e5a3a" fill-opacity="0.14"/>
<path d="M729.6,187.0 L726.5,192.3 L733.3,193.5 L735.8,189.6 L734.9,187.7Z" fill="#4a3a26" fill-opacity="0.21"/>
<path d="M737.2,189.1 L743.5,191.6 L745.3,190.7 L743.8,183.2 L739.1,181.6 L736.2,187.0Z" fill="#7a6444" fill-opacity="0.21"/>
<path d="M753.2,184.3 L751.0,179.0 L745.3,183.0 L746.7,190.5 L751.5,191.5 L752.0,191.2Z" fill="#5a4830" fill-opacity="0.42"/>
<path d="M758.8,191.9 L762.4,188.5 L761.7,184.4 L754.6,184.9 L753.5,191.1Z" fill="#6e5a3a" fill-opacity="0.49"/>
<path d="M763.1,183.8 L763.9,188.1 L771.2,189.6 L772.0,189.0 L772.6,183.1 L770.1,179.0Z" fill="#7a6444" fill-opacity="0.45"/>
<path d="M774.1,183.5 L773.5,188.9 L779.1,191.0 L783.3,190.1 L785.6,185.1 L782.0,182.3Z" fill="#4a3a26" fill-opacity="0.68"/>
<path d="M787.1,185.4 L784.7,190.7 L785.9,192.7 L786.2,192.2 L787.1,189.8 L788.0,187.5 L788.8,185.1 L788.9,184.8Z" fill="#5a4830" fill-opacity="0.69"/>
<path d="M649.3,202.8 L642.1,194.7 L641.8,194.6 L640.4,195.5 L641.0,196.7 L642.2,198.9 L643.4,201.1 L644.1,202.1Z" fill="#5a4830" fill-opacity="0.58"/>
<path d="M652.7,197.0 L649.6,192.4 L643.8,194.3 L650.8,202.3 L652.4,198.5Z" fill="#7a6444" fill-opacity="0.49"/>
<path d="M662.8,197.4 L661.6,195.0 L659.8,194.1 L654.1,197.3 L654.0,198.0 L661.1,199.3Z" fill="#8a7450" fill-opacity="0.32"/>
<path d="M672.2,199.8 L673.3,198.1 L673.3,197.9 L669.4,190.2 L663.1,194.7 L664.3,196.9 L671.6,200.3Z" fill="#7a6444" fill-opacity="0.31"/>
<path d="M675.1,197.8 L683.7,199.1 L686.3,194.5 L679.8,193.0Z" fill="#6e5a3a" fill-opacity="0.25"/>
<path d="M693.8,198.6 L689.7,193.6 L688.0,194.6 L684.9,200.0 L686.4,203.4Z" fill="#6e5a3a" fill-opacity="0.09"/>
<path d="M690.9,192.6 L695.4,198.1 L698.4,199.6 L700.0,197.8 L696.9,190.6Z" fill="#7a6444" fill-opacity="0.13"/>
<path d="M705.8,186.1 L703.3,196.2 L709.2,196.8 L711.5,191.5Z" fill="#7a6444" fill-opacity="0.15"/>
<path d="M716.6,202.0 L721.6,197.6 L721.6,194.9 L718.6,192.1 L712.9,192.0 L710.5,197.5 L711.4,199.1Z" fill="#5a4830" fill-opacity="0.09"/>
<path d="M725.5,193.6 L723.1,195.0 L723.1,197.6 L725.2,199.4 L733.8,197.9 L733.0,195.0Z" fill="#5a4830" fill-opacity="0.13"/>
<path d="M734.4,194.4 L735.4,198.1 L738.2,200.8 L739.8,200.5 L742.6,192.8 L736.9,190.6Z" fill="#4a3a26" fill-opacity="0.15"/>
<path d="M750.8,192.9 L746.2,191.9 L744.2,192.9 L741.3,200.8 L745.0,203.2 L747.0,203.1 L750.7,196.1Z" fill="#7a6444" fill-opacity="0.21"/>
<path d="M758.6,193.4 L752.8,192.5 L752.3,192.7 L752.2,196.0 L757.3,202.3 L760.6,197.5Z" fill="#6e5a3a" fill-opacity="0.28"/>
<path d="M766.4,198.3 L769.4,195.5 L770.4,191.0 L763.5,189.5 L760.0,192.9 L762.0,197.0Z" fill="#4a3a26" fill-opacity="0.44"/>
<path d="M777.1,199.6 L778.2,192.3 L772.8,190.2 L772.0,190.8 L770.9,195.5 L776.9,199.9Z" fill="#5a4830" fill-opacity="0.59"/>
<path d="M783.5,191.6 L779.7,192.4 L778.7,199.1 L783.1,198.5 L784.0,196.7 L785.1,194.5 L785.2,194.3Z" fill="#7a6444" fill-opacity="0.67"/>
<path d="M645.1,203.8 L646.2,205.3 L647.7,207.4 L648.2,208.1 L650.9,205.7 L650.5,204.5Z" fill="#5a4830" fill-opacity="0.43"/>
<path d="M651.8,203.8 L652.4,205.5 L659.9,205.7 L660.5,200.7 L653.6,199.5Z" fill="#7a6444" fill-opacity="0.35"/>
<path d="M663.9,198.4 L662.1,200.4 L661.3,206.0 L665.2,207.9 L669.9,203.7 L670.8,201.6Z" fill="#5a4830" fill-opacity="0.33"/>
<path d="M672.8,201.3 L672.4,201.6 L671.4,204.1 L677.6,212.0 L682.7,208.9Z" fill="#4a3a26" fill-opacity="0.18"/>
<path d="M685.0,207.2 L685.2,204.6 L683.6,200.6 L674.4,199.2 L673.8,200.1 L683.8,207.9Z" fill="#5a4830" fill-opacity="0.10"/>
<path d="M686.5,207.2 L690.8,208.8 L698.1,202.0 L697.9,201.0 L695.0,199.6 L686.7,204.9Z" fill="#4a3a26" fill-opacity="0.04"/>
<path d="M709.9,199.6 L709.2,198.3 L702.5,197.6 L701.3,198.5 L699.3,200.7 L699.6,201.9 L703.7,206.6 L704.1,206.6Z" fill="#6e5a3a" fill-opacity="0.02"/>
<path d="M737.0,201.7 L734.5,199.3 L726.1,200.8 L728.7,205.8 L733.2,206.9Z" fill="#6e5a3a" fill-opacity="0.05"/>
<path d="M741.6,214.5 L741.8,214.3 L744.0,204.4 L740.2,201.9 L738.4,202.2 L734.4,207.9 L734.9,209.4 L741.4,214.6Z" fill="#7a6444" fill-opacity="0.10"/>
<path d="M751.6,197.6 L748.4,203.5 L753.0,206.4 L756.5,203.7Z" fill="#5a4830" fill-opacity="0.32"/>
<path d="M758.2,203.7 L762.2,206.2 L767.7,206.7 L766.0,199.8 L761.8,198.5Z" fill="#6e5a3a" fill-opacity="0.25"/>
<path d="M769.3,207.1 L769.7,207.5 L776.0,202.9 L776.2,201.3 L770.1,196.8 L767.5,199.4Z" fill="#6e5a3a" fill-opacity="0.44"/>
<path d="M779.6,204.2 L780.2,203.3 L781.6,201.1 L782.2,200.1 L778.2,200.6 L777.7,201.2 L777.5,202.9Z" fill="#6e5a3a" fill-opacity="0.38"/>
<path d="M651.6,207.1 L649.1,209.3 L649.2,209.4 L650.8,211.4 L652.5,213.3 L653.9,214.7Z" fill="#6e5a3a" fill-opacity="0.35"/>
<path d="M664.5,213.7 L664.5,209.2 L660.4,207.2 L653.2,207.0 L655.5,214.8Z" fill="#6e5a3a" fill-opacity="0.39"/>
<path d="M676.4,213.5 L676.5,213.2 L670.4,205.3 L666.0,209.1 L666.0,214.2 L667.1,216.1 L670.6,218.1Z" fill="#8a7450" fill-opacity="0.19"/>
<path d="M678.0,213.5 L677.9,213.8 L682.8,219.1 L684.7,216.8 L683.0,210.4Z" fill="#7a6444" fill-opacity="0.09"/>
<path d="M684.3,209.4 L686.1,216.2 L692.1,216.1 L693.1,215.5 L690.4,210.3 L685.8,208.5 L684.3,209.4Z" fill="#5a4830" fill-opacity="0.02"/>
<path d="M747.3,204.6 L745.5,204.7 L743.5,213.8 L752.3,212.6 L752.3,207.7Z" fill="#8a7450" fill-opacity="0.18"/>
<path d="M753.8,207.7 L753.8,213.0 L754.2,213.4 L757.7,213.4 L761.0,207.2 L757.4,205.0Z" fill="#7a6444" fill-opacity="0.33"/>
<path d="M762.4,207.7 L759.2,213.8 L765.0,216.2 L769.3,211.2 L768.9,208.8 L768.3,208.2Z" fill="#8a7450" fill-opacity="0.39"/>
<path d="M773.2,212.4 L774.2,211.4 L775.8,209.4 L777.3,207.4 L778.8,205.4 L776.8,204.2 L770.5,208.8 L770.8,211.0Z" fill="#6e5a3a" fill-opacity="0.50"/>
<path d="M655.5,216.3 L656.1,216.9 L658.0,218.6 L659.9,220.3 L661.1,221.3 L665.6,216.5 L664.9,215.2Z" fill="#6e5a3a" fill-opacity="0.26"/>
<path d="M662.3,222.2 L663.9,223.5 L665.4,224.5 L665.8,224.7 L669.8,219.4 L666.7,217.6Z" fill="#5a4830" fill-opacity="0.25"/>
<path d="M671.6,219.2 L675.9,225.6 L682.1,221.3 L682.1,220.6 L677.0,215.0Z" fill="#8a7450" fill-opacity="0.09"/>
<path d="M738.4,224.0 L746.8,223.5 L741.6,216.1 L739.5,218.8Z" fill="#6e5a3a" fill-opacity="0.03"/>
<path d="M742.9,215.4 L748.5,223.3 L752.8,219.8 L753.1,214.4 L752.8,214.1Z" fill="#4a3a26" fill-opacity="0.16"/>
<path d="M754.6,214.9 L754.3,219.7 L760.4,223.9 L761.1,223.5 L763.1,221.9 L764.3,220.9 L764.5,217.6 L758.0,214.9Z" fill="#4a3a26" fill-opacity="0.19"/>
<path d="M765.9,219.6 L767.0,218.6 L768.9,216.9 L770.7,215.1 L772.2,213.5 L770.2,212.4 L766.0,217.4Z" fill="#5a4830" fill-opacity="0.35"/>
<path d="M667.0,225.6 L668.2,226.4 L670.4,227.7 L672.6,229.0 L674.8,230.2 L674.9,226.8 L670.7,220.6Z" fill="#5a4830" fill-opacity="0.12"/>
<path d="M684.2,231.2 L688.1,226.5 L687.6,225.5 L682.8,222.6 L676.4,227.0 L676.3,230.7 L676.8,231.2 L677.2,231.4 L679.3,232.3Z" fill="#8a7450" fill-opacity="0.04"/>
<path d="M738.1,225.5 L738.8,228.1 L745.5,232.4 L747.8,231.4 L748.0,231.3 L748.2,231.1 L747.7,224.9Z" fill="#7a6444" fill-opacity="0.04"/>
<path d="M749.7,230.5 L750.1,230.2 L752.4,229.0 L754.6,227.7 L756.8,226.4 L759.0,225.0 L759.1,224.9 L753.6,221.1 L749.2,224.6Z" fill="#7a6444" fill-opacity="0.16"/>

</g>
<ellipse cx="712" cy="218" rx="58" ry="34" fill="url(#glowSpot)"/>
<ellipse cx="714" cy="226" rx="26" ry="14" fill="url(#glowSpot)"/>
<ellipse cx="705" cy="135" rx="40" ry="24" fill="url(#glowSpot)" opacity="0.4"/>
<!-- spiral rings -->
<g fill="none" stroke="#c8a050" stroke-width="1.2" opacity="0.7">
<path d="M670,86 C690,80 730,80 752,86"/>
<path d="M735,84 C770,92 790,110 793,128"/>
</g>
<g fill="none" stroke="#17110a" stroke-width="3.6" stroke-linecap="round">
<path d="M648,99 C670,106 735,106 765,96 C772,92 770,88 760,86"/>
<path d="M632,141 C660,150 760,150 791,132 C800,126 796,118 786,112"/>
<path d="M629,185 C670,195 770,192 793,171 C800,163 796,155 788,150"/>
</g>
<g fill="none" stroke="#d8b060" stroke-width="1" opacity="0.85">
<path d="M648,97 C670,104 735,104 765,94"/>
<path d="M632,139 C660,148 760,148 791,130"/>
<path d="M629,183 C670,193 770,190 793,169"/>
</g>
<!-- light burst -->
<g stroke="#fff8e0" stroke-width="1.2" opacity="0.8">
<path d="M712,236 L690,252 M712,236 L734,252 M712,236 L712,254 M712,236 L680,240 M712,236 L744,240"/>
</g>
</g>


<!-- PANEL 2 content -->
<defs>
<clipPath id="clip2"><rect x="493.5" y="351.3" width="391.7" height="213" rx="29"/></clipPath>
<linearGradient id="copperFace" x1="0" y1="0" x2="1" y2="0">
<stop offset="0" stop-color="#6a3e1c"/>
<stop offset="0.12" stop-color="#a06a3a"/>
<stop offset="0.4" stop-color="#c48c58"/>
<stop offset="0.75" stop-color="#b88050"/>
<stop offset="1" stop-color="#8a5a30"/>
</linearGradient>
<linearGradient id="greyBand" x1="0" y1="0" x2="1" y2="0">
<stop offset="0" stop-color="#5e5048"/>
<stop offset="0.35" stop-color="#7e7068"/>
<stop offset="0.8" stop-color="#7a6c62"/>
<stop offset="1" stop-color="#625248"/>
</linearGradient>
<linearGradient id="wingG" x1="0" y1="0" x2="1" y2="0">
<stop offset="0" stop-color="#b07a48"/>
<stop offset="0.5" stop-color="#d09860"/>
<stop offset="1" stop-color="#c08450"/>
</linearGradient>
<linearGradient id="bodyG" x1="0" y1="0" x2="1" y2="1">
<stop offset="0" stop-color="#c08a58"/>
<stop offset="0.5" stop-color="#8a7058"/>
<stop offset="1" stop-color="#b08050"/>
</linearGradient>
<radialGradient id="ball2G" cx="0.45" cy="0.25" r="0.75">
<stop offset="0" stop-color="#e8eeee"/>
<stop offset="0.5" stop-color="#c4cccc"/>
<stop offset="1" stop-color="#8a9494"/>
</radialGradient>
</defs>
<g clip-path="url(#clip2)">
<!-- grey outer band -->
<path d="M795,349 C815,390 822,440 821,483 C820,515 808,545 788,568 L828,568 C845,540 852,510 854,470 C856,430 846,385 826,349Z" fill="url(#greyBand)"/>
<!-- copper face -->
<path d="M746,349 C762,372 772,400 774,430 C776,470 766,510 748,540 C740,552 734,560 728,568 L790,568 C810,545 821,515 821,483 C822,440 815,390 795,349Z" fill="url(#copperFace)"/>
<path d="M749,349 C765,372 775,400 777,430 C779,470 769,510 751,540 C743,552 737,560 731,568" stroke="#7a4a26" stroke-width="5" fill="none" opacity="0.85"/>
<path d="M746,349 C762,372 772,400 774,430 C776,470 766,510 748,540 C740,552 734,560 728,568" stroke="#6a3c18" stroke-width="2.5" fill="none"/>
<path d="M795,349 C815,390 822,440 821,483 C820,515 808,545 788,568" stroke="#5a4030" stroke-width="1.5" fill="none"/>
<!-- white star cutouts on copper -->
<g fill="#fff">
<path d="M797.3,463.7 L804.8,474.5 L817.8,472.8 L809.8,483.2 L815.4,495.0 L803.1,490.6 L793.6,499.7 L793.9,486.6 L782.4,480.3 L795.0,476.6Z"/>
<circle cx="773.0" cy="372.0" r="2.2"/>
<circle cx="786.7" cy="354.0" r="2.0"/>
<circle cx="808.0" cy="448.6" r="2.2"/>
<circle cx="801.3" cy="518.3" r="2.2"/>
<circle cx="792.3" cy="539.7" r="2.2"/>
</g>
<g stroke="#fff" stroke-width="1.8" fill="none" stroke-linecap="round">
<path d="M790.0,367.5 L799.8,369.2 M790.0,367.5 L794.6,371.4 M790.0,367.5 L793.4,376.9 M790.0,367.5 L789.0,373.4 M790.0,367.5 L783.6,375.2 M790.0,367.5 L784.4,369.6 M790.0,367.5 L780.2,365.8 M790.0,367.5 L785.4,363.6 M790.0,367.5 L786.6,358.1 M790.0,367.5 L791.0,361.6 M790.0,367.5 L796.4,359.8 M790.0,367.5 L795.6,365.4"/>
<path d="M803.6,401.3 L815.4,403.4 M803.6,401.3 L809.1,405.9 M803.6,401.3 L807.7,412.6 M803.6,401.3 L802.3,408.4 M803.6,401.3 L795.9,410.5 M803.6,401.3 L796.8,403.8 M803.6,401.3 L791.8,399.2 M803.6,401.3 L798.1,396.7 M803.6,401.3 L799.5,390.0 M803.6,401.3 L804.9,394.2 M803.6,401.3 L811.3,392.1 M803.6,401.3 L810.4,398.8"/>
<path d="M767.5,543.0 L780.8,545.3 M767.5,543.0 L773.7,548.2 M767.5,543.0 L772.1,555.7 M767.5,543.0 L766.1,551.0 M767.5,543.0 L758.8,553.3 M767.5,543.0 L759.9,545.8 M767.5,543.0 L754.2,540.7 M767.5,543.0 L761.3,537.8 M767.5,543.0 L762.9,530.3 M767.5,543.0 L768.9,535.0 M767.5,543.0 L776.2,532.7 M767.5,543.0 L775.1,540.2"/>
<path d="M760.8,351.8 L788,366"/>
<path d="M812,432 L818,448 M818,435 L810,452" />
<path d="M794,526 L806,530"/>
</g>
<g fill="#fff"><circle cx="790" cy="367.5" r="3.5"/><circle cx="803.6" cy="401.3" r="4"/><circle cx="767.5" cy="543" r="4.2"/></g>
<g fill="#b07844" opacity="0.9">
<path d="M839.7,463.2 L842.5,474.6 L854.0,477.0 L844.0,483.3 L845.3,495.0 L836.3,487.4 L825.5,492.2 L829.9,481.3 L822.0,472.5 L833.8,473.4Z"/>
</g>
<g stroke="#b88050" stroke-width="1.6" fill="none" stroke-linecap="round" opacity="0.9">
<path d="M817.0,358.5 L823.0,358.5 M817.0,358.5 L819.9,360.6 M817.0,358.5 L818.9,364.2 M817.0,358.5 L815.9,361.9 M817.0,358.5 L812.1,362.0 M817.0,358.5 L813.4,358.5 M817.0,358.5 L812.1,355.0 M817.0,358.5 L815.9,355.1 M817.0,358.5 L818.9,352.8 M817.0,358.5 L819.9,356.4"/>
<path d="M832.8,396.8 L842.8,396.8 M832.8,396.8 L837.7,400.3 M832.8,396.8 L835.9,406.3 M832.8,396.8 L830.9,402.5 M832.8,396.8 L824.7,402.7 M832.8,396.8 L826.8,396.8 M832.8,396.8 L824.7,390.9 M832.8,396.8 L830.9,391.1 M832.8,396.8 L835.9,387.3 M832.8,396.8 L837.7,393.3"/>
<path d="M844.0,441.8 L855.0,441.8 M844.0,441.8 L849.3,445.7 M844.0,441.8 L847.4,452.3 M844.0,441.8 L842.0,448.1 M844.0,441.8 L835.1,448.3 M844.0,441.8 L837.4,441.8 M844.0,441.8 L835.1,435.3 M844.0,441.8 L842.0,435.5 M844.0,441.8 L847.4,431.3 M844.0,441.8 L849.3,437.9"/>
</g>
<g fill="#4a2e1a" opacity="0.85">
<path d="M828.9,528.8 L832.6,534.6 L839.4,533.9 L835.1,539.2 L837.8,545.5 L831.4,543.0 L826.2,547.6 L826.6,540.7 L820.7,537.2 L827.4,535.5Z"/>
<path d="M808.7,549.0 L810.4,554.3 L815.8,555.2 L811.3,558.4 L812.1,563.9 L807.7,560.6 L802.8,563.0 L804.5,557.8 L800.6,553.9 L806.1,553.9Z"/>
</g>
<!-- crystal drop -->
<path d="M583,351 L604,351 C613,365 620,380 621,395 C621,410 612,419.5 600,419.5 C588,419.5 579,410 578,396 C577,380 580,365 583,351Z" fill="#efedf1" stroke="#c4c2c8" stroke-width="0.8"/>
<g fill="#8a8a8e" opacity="0.75">
<path d="M585,352 L589,352 L588,372 L584,377Z"/>
<path d="M592,354 L596,354 L603,376 L598,378Z" opacity="0.6"/>
<path d="M600,352 L604,352 L612,372 L608,374Z" opacity="0.5"/>
<path d="M586,380 L592,378 L590,388 L583,386Z"/>
<path d="M604,380 L610,378 L611,386 L606,384Z" opacity="0.6"/>
<path d="M617,388 L621,394 L618,402 L615,398Z" opacity="0.9"/>
</g>
<ellipse cx="600" cy="401" rx="18" ry="17" fill="#e6e4ea"/>
<path d="M583,395 C590,390 610,390 618,396" stroke="#c8c6cc" stroke-width="0.8" fill="none"/>
<!-- ball -->
<circle cx="642" cy="584" r="60" fill="url(#ball2G)"/>
<g>
<path d="M621.1,528.4 L622.1,530.5 L624.1,530.9 L625.3,527.0 L624.8,527.2 L622.9,527.8Z" fill="#6a7474" fill-opacity="0.37"/>
<path d="M637.0,524.8 L639.8,528.9 L648.1,525.1 L648.0,524.9 L647.8,524.9 L645.9,524.7 L643.9,524.6 L642.0,524.6 L640.1,524.6 L638.1,524.7Z" fill="#5a6464" fill-opacity="0.43"/>
<path d="M649.9,525.1 L649.8,525.1 L649.3,525.1 L649.4,525.1 L649.5,525.3Z" fill="#7a8484" fill-opacity="0.26"/>
<path d="M612.8,532.3 L614.7,532.5 L620.9,530.6 L620.0,528.8 L619.3,529.1 L617.5,529.9 L615.7,530.7 L614.0,531.6Z" fill="#5a6464" fill-opacity="0.23"/>
<path d="M626.7,526.6 L625.2,531.4 L625.9,532.2 L630.0,533.0 L633.3,525.3 L632.3,525.4 L630.4,525.7 L628.5,526.2Z" fill="#7a8484" fill-opacity="0.26"/>
<path d="M635.9,536.0 L638.9,529.7 L635.6,524.9 L634.7,525.1 L631.1,533.4Z" fill="#5a6464" fill-opacity="0.37"/>
<path d="M647.7,535.7 L649.9,529.1 L648.9,526.3 L648.7,526.2 L640.0,530.1 L637.2,536.1Z" fill="#7a8484" fill-opacity="0.45"/>
<path d="M651.1,528.7 L659.1,532.1 L662.2,530.0 L662.1,528.1 L661.1,527.8 L659.2,527.2 L657.4,526.6 L655.5,526.2 L653.6,525.7 L652.3,525.5 L650.1,526.3Z" fill="#8a9494" fill-opacity="0.27"/>
<path d="M663.3,528.6 L663.4,529.8 L667.9,531.0 L668.6,530.9 L668.3,530.7 L666.5,529.9 L664.7,529.1Z" fill="#7a8484" fill-opacity="0.22"/>
<path d="M598.0,545.4 L599.3,542.7 L598.6,543.4 L597.3,544.8 L596.9,545.3Z" fill="#6a7474" fill-opacity="0.35"/>
<path d="M603.0,539.2 L607.4,539.2 L609.6,534.2 L609.0,534.6 L607.4,535.7 L605.8,536.9 L604.3,538.1Z" fill="#4e5858" fill-opacity="0.44"/>
<path d="M611.1,544.7 L616.6,539.7 L614.3,533.6 L611.6,533.3 L611.3,533.5 L608.4,539.7Z" fill="#5a6464" fill-opacity="0.23"/>
<path d="M617.7,539.4 L622.6,541.1 L624.9,532.9 L624.2,532.1 L621.7,531.6 L615.5,533.5Z" fill="#5a6464" fill-opacity="0.44"/>
<path d="M630.1,534.2 L626.0,533.5 L623.6,541.9 L623.8,542.7 L631.5,546.5 L635.5,540.4 L635.5,537.1Z" fill="#5a6464" fill-opacity="0.40"/>
<path d="M636.7,537.3 L636.7,540.3 L644.9,545.4 L649.6,541.6 L647.7,536.9Z" fill="#6a7474" fill-opacity="0.52"/>
<path d="M650.8,541.3 L651.9,541.6 L658.7,540.8 L658.6,533.2 L650.9,529.9 L648.7,536.3Z" fill="#7a8484" fill-opacity="0.24"/>
<path d="M659.9,541.1 L661.2,542.1 L664.9,541.7 L667.1,532.1 L662.9,530.9 L659.8,533.1Z" fill="#5a6464" fill-opacity="0.40"/>
<path d="M668.4,532.2 L666.1,541.8 L669.5,542.8 L675.0,537.0 L674.8,534.5 L673.4,533.6 L671.7,532.6 L670.3,531.8Z" fill="#6a7474" fill-opacity="0.40"/>
<path d="M676.2,537.0 L683.7,543.0 L684.5,542.5 L684.0,542.0 L682.6,540.6 L681.2,539.3 L679.7,538.1 L678.2,536.9 L676.6,535.7 L676.1,535.3Z" fill="#6a7474" fill-opacity="0.54"/>
<path d="M595.8,556.5 L596.1,556.3 L598.3,547.1 L598.0,546.6 L596.0,546.4 L594.9,547.8 L593.7,549.4 L592.6,551.0 L591.6,552.6 L591.4,552.9Z" fill="#8a9494" fill-opacity="0.41"/>
<path d="M601.7,540.4 L599.1,546.0 L599.4,546.5 L607.5,549.9 L610.5,547.0 L610.3,545.8 L607.4,540.4Z" fill="#4e5858" fill-opacity="0.44"/>
<path d="M611.7,546.7 L617.3,548.8 L622.6,543.0 L622.4,542.3 L617.4,540.6 L611.5,545.9Z" fill="#4e5858" fill-opacity="0.25"/>
<path d="M624.4,553.2 L631.2,548.6 L631.1,547.7 L623.4,543.9 L618.2,549.6 L619.2,551.6Z" fill="#4e5858" fill-opacity="0.31"/>
<path d="M632.3,547.4 L632.4,548.6 L635.3,552.1 L644.0,549.8 L644.3,546.5 L636.2,541.4Z" fill="#4e5858" fill-opacity="0.33"/>
<path d="M645.2,550.1 L646.5,551.9 L652.3,549.0 L651.3,542.7 L650.5,542.5 L645.5,546.5Z" fill="#5a6464" fill-opacity="0.20"/>
<path d="M653.6,549.0 L658.1,552.5 L659.7,551.4 L660.4,543.0 L659.1,542.0 L652.5,542.8Z" fill="#6a7474" fill-opacity="0.50"/>
<path d="M669.3,544.0 L665.3,542.8 L661.6,543.2 L660.9,551.4 L664.6,552.8 L669.9,545.4Z" fill="#4e5858" fill-opacity="0.46"/>
<path d="M670.4,543.6 L671.1,545.1 L675.4,549.0 L681.9,547.6 L683.0,543.9 L675.6,538.1Z" fill="#4e5858" fill-opacity="0.30"/>
<path d="M684.2,544.1 L683.0,548.0 L688.1,556.8 L691.4,551.1 L691.4,551.0 L690.3,549.4 L689.1,547.8 L687.9,546.3 L686.7,544.8 L685.4,543.4 L685.3,543.4Z" fill="#6a7474" fill-opacity="0.26"/>
<path d="M594.9,557.3 L590.8,554.0 L590.6,554.3 L589.6,556.0 L588.7,557.7 L587.9,559.5 L587.1,561.3 L587.0,561.6 L590.0,562.9 L592.5,562.3Z" fill="#7a8484" fill-opacity="0.41"/>
<path d="M605.4,557.2 L606.9,551.0 L599.4,547.8 L597.4,556.3 L604.7,557.5Z" fill="#5a6464" fill-opacity="0.47"/>
<path d="M613.2,561.6 L616.1,557.4 L618.1,552.1 L617.0,550.0 L611.3,547.9 L608.1,550.9 L606.6,557.4Z" fill="#8a9494" fill-opacity="0.53"/>
<path d="M617.4,557.3 L623.5,559.0 L624.9,558.1 L624.0,554.4 L619.1,552.8Z" fill="#5a6464" fill-opacity="0.45"/>
<path d="M625.2,554.1 L626.2,558.0 L630.7,561.4 L634.5,554.0 L634.5,553.0 L631.7,549.7Z" fill="#5a6464" fill-opacity="0.24"/>
<path d="M635.7,553.3 L635.7,553.8 L640.7,558.2 L646.7,556.1 L645.8,553.0 L644.3,551.0Z" fill="#4e5858" fill-opacity="0.24"/>
<path d="M651.1,559.0 L654.7,557.9 L657.3,553.4 L652.9,550.1 L647.1,553.0 L648.0,556.1Z" fill="#7a8484" fill-opacity="0.39"/>
<path d="M665.5,555.1 L664.5,554.1 L660.3,552.5 L658.5,553.6 L655.8,558.3 L662.8,563.8Z" fill="#4e5858" fill-opacity="0.32"/>
<path d="M672.3,555.4 L674.5,549.8 L670.7,546.4 L665.6,553.5 L666.5,554.4Z" fill="#7a8484" fill-opacity="0.32"/>
<path d="M673.7,556.8 L682.1,562.0 L687.0,557.3 L682.1,548.7 L675.7,550.2 L673.3,556.1Z" fill="#5a6464" fill-opacity="0.37"/>
<path d="M689.3,557.1 L692.8,558.4 L695.6,558.4 L695.3,557.7 L694.4,556.0 L693.4,554.3 L692.4,552.6 L692.2,552.2Z" fill="#4e5858" fill-opacity="0.34"/>
<path d="M584.2,570.2 L586.6,570.4 L589.1,563.9 L586.6,562.7 L586.4,563.1 L585.8,564.9 L585.2,566.8 L584.6,568.6Z" fill="#6a7474" fill-opacity="0.30"/>
<path d="M596.7,557.4 L596.1,557.6 L593.6,562.7 L599.2,569.8 L600.3,569.2 L603.9,558.6Z" fill="#6a7474" fill-opacity="0.50"/>
<path d="M601.6,569.1 L609.5,570.0 L613.6,564.7 L612.9,562.8 L605.8,558.4 L605.2,558.6Z" fill="#5a6464" fill-opacity="0.33"/>
<path d="M616.9,558.4 L614.0,562.5 L614.7,564.4 L618.4,565.8 L618.9,565.7 L622.6,560.0Z" fill="#8a9494" fill-opacity="0.50"/>
<path d="M620.4,565.7 L625.9,566.3 L630.4,563.3 L630.3,562.6 L625.6,559.1 L624.0,560.1Z" fill="#7a8484" fill-opacity="0.28"/>
<path d="M639.9,559.1 L635.3,555.0 L631.5,562.4 L631.6,563.3 L636.7,567.0 L638.7,565.7Z" fill="#8a9494" fill-opacity="0.30"/>
<path d="M650.3,559.9 L647.3,557.1 L641.1,559.3 L640.0,565.5 L648.5,565.1Z" fill="#8a9494" fill-opacity="0.31"/>
<path d="M654.9,559.1 L651.4,560.2 L649.6,565.7 L649.8,566.1 L659.1,569.7 L662.3,568.0 L663.2,566.4 L662.6,565.2Z" fill="#4e5858" fill-opacity="0.53"/>
<path d="M664.2,565.7 L667.5,565.3 L672.5,557.2 L672.3,556.7 L666.6,555.7 L663.7,564.8Z" fill="#6a7474" fill-opacity="0.46"/>
<path d="M675.8,568.9 L680.7,566.5 L681.5,563.0 L673.4,558.0 L668.7,565.6Z" fill="#5a6464" fill-opacity="0.45"/>
<path d="M692.1,559.4 L688.3,558.0 L688.0,558.0 L682.7,563.0 L681.9,566.8 L685.2,570.9 L692.4,567.4Z" fill="#5a6464" fill-opacity="0.50"/>
<path d="M696.1,559.6 L693.3,559.6 L693.6,567.5 L696.0,569.9 L699.2,568.1 L698.8,566.8 L698.2,564.9 L697.6,563.1 L696.9,561.3Z" fill="#5a6464" fill-opacity="0.32"/>
<path d="M584.2,581.0 L591.0,576.4 L586.8,571.6 L584.0,571.4 L583.7,572.4 L583.4,574.3 L583.1,576.2 L582.9,578.2 L582.8,579.2Z" fill="#6a7474" fill-opacity="0.22"/>
<path d="M598.3,570.7 L592.6,563.5 L590.3,564.1 L587.7,570.9 L592.2,575.9 L594.6,576.1 L596.4,575.0Z" fill="#6a7474" fill-opacity="0.36"/>
<path d="M610.3,576.0 L609.3,571.2 L600.9,570.3 L599.5,571.0 L597.7,575.1 L602.7,578.1Z" fill="#4e5858" fill-opacity="0.29"/>
<path d="M611.5,575.9 L619.8,575.4 L617.8,566.9 L614.5,565.6 L610.4,570.8Z" fill="#4e5858" fill-opacity="0.49"/>
<path d="M621.9,576.3 L626.4,576.4 L625.5,567.5 L619.4,566.8 L619.0,566.9 L621.0,575.6Z" fill="#7a8484" fill-opacity="0.50"/>
<path d="M636.0,569.5 L636.1,568.0 L631.1,564.3 L626.7,567.2 L627.7,576.6 L627.7,576.6Z" fill="#5a6464" fill-opacity="0.21"/>
<path d="M647.5,575.2 L648.7,566.7 L648.6,566.3 L639.4,566.7 L637.3,568.1 L637.2,569.6 L642.1,576.6Z" fill="#8a9494" fill-opacity="0.26"/>
<path d="M656.7,574.4 L658.4,570.7 L649.8,567.4 L648.7,575.4 L650.7,576.8Z" fill="#5a6464" fill-opacity="0.36"/>
<path d="M662.0,580.6 L663.1,580.6 L665.1,574.3 L662.5,569.3 L659.6,570.8 L657.8,574.8Z" fill="#7a8484" fill-opacity="0.34"/>
<path d="M663.5,568.5 L666.1,573.8 L673.2,575.0 L675.1,569.9 L667.8,566.5 L664.2,566.9Z" fill="#5a6464" fill-opacity="0.50"/>
<path d="M674.3,575.5 L680.1,581.7 L686.0,575.8 L684.5,572.0 L681.1,567.7 L676.3,570.0Z" fill="#7a8484" fill-opacity="0.41"/>
<path d="M692.9,568.4 L685.8,572.0 L687.2,575.5 L691.4,577.1 L693.7,576.2 L695.3,570.8Z" fill="#7a8484" fill-opacity="0.34"/>
<path d="M695.0,576.3 L697.9,577.2 L700.6,574.5 L700.6,574.3 L700.3,572.4 L699.8,570.5 L699.5,569.3 L696.4,571.0Z" fill="#7a8484" fill-opacity="0.38"/>
<path d="M611.8,577.1 L612.3,582.0 L615.7,584.3 L619.0,581.4 L621.0,577.1 L620.3,576.6Z" fill="#8a9494" fill-opacity="0.46"/>
<path d="M638.3,583.6 L641.2,577.3 L636.5,570.6 L628.6,577.5 L631.1,582.3Z" fill="#6a7474" fill-opacity="0.41"/>
<path d="M667.3,583.3 L672.4,576.1 L666.1,575.0 L664.2,581.0Z" fill="#8a9494" fill-opacity="0.35"/>
<path d="M698.9,577.9 L701.3,580.6 L701.3,580.1 L701.1,578.2 L700.9,576.2 L700.8,575.9Z" fill="#6a7474" fill-opacity="0.52"/>
</g>
<!-- rings -->
<g fill="none" stroke="#7e5234" stroke-width="3.2">
<ellipse cx="652" cy="522.5" rx="33" ry="5" transform="rotate(9 652 522.5)"/>
<ellipse cx="645" cy="541" rx="61" ry="5.5" transform="rotate(8 645 541)"/>
<path d="M566,562 C578,559 596,561 606,566"/>
</g>
<g fill="none" stroke="#caa078" stroke-width="0.9" opacity="0.9">
<path d="M622,517 C640,514 668,517 684,524"/>
<path d="M588,531 C620,528 680,536 704,546"/>
</g>
<path d="M669,514 L650,516" stroke="#1e1a16" stroke-width="2.2"/>
<!-- fairy -->
<g fill="#b08050">
<!-- raised leg -->
<path d="M602,427 C602,424 605,423 608,425 L652,464 L648,471 L605,432 C603,430 602,429 602,427Z" fill="#b58456"/>
<!-- lower leg + thigh -->
<path d="M634,467 L638,473 L614,490 C608,494 603,498 600,500 C596,501 595,498 598,496 L611,486Z" fill="#c08a58"/>
<path d="M633,466 C642,463 650,466 656,472 L664,490 L652,494 L638,474Z" fill="#a07e5a"/>
<!-- body -->
<path d="M650,474 C654,466 662,461 668,459 C674,459 679,463 681,469 C684,480 681,498 676,506 C671,512 661,512 656,505 C651,497 648,484 650,474Z" fill="#8a7660"/>
<path d="M667,459 C671,454 677,454 680,459 L682,469 L670,469Z" fill="#b08a60"/>
<!-- head -->
<path d="M664,440 C666,434 674,432 680,434 C688,433 692,438 690,444 C688,449 684,450 682,451 L680,456 C676,458 670,457 668,454 C664,452 662,446 664,440Z" fill="#c08e5a"/>
<!-- fairy arm -->
<path d="M668,462 L650,448 L652,445 L672,458Z" fill="#b08456"/>
<path d="M640,440 C638,436 642,434 645,437 C647,434 652,436 650,440 L647,448 L642,446Z" fill="#c89460"/>
</g>
<path d="M672,483 L667,512 L652,515" stroke="#1e1a16" stroke-width="2" fill="none"/>
<ellipse cx="664" cy="482" rx="2.6" ry="3" fill="#fff"/>
<!-- wings -->
<path d="M682,467 C686,452 692,438 702,426 C712,416 730,412 750,410 C760,409 770,407 778,404 C778,414 772,424 766,432 C760,442 752,452 740,462 C728,470 712,472 690,471Z" fill="url(#wingG)"/>
<path d="M684,471 C700,474 716,478 728,486 C738,494 742,506 740,518 C738,528 730,534 728,542 C730,548 732,554 724,555 C716,555 710,550 712,545 C706,536 700,524 694,508 C688,496 684,484 684,471Z" fill="url(#wingG)"/>
<g fill="#fff">
<path d="M686,464 C692,448 700,432 712,423 C712,432 702,448 688,465Z"/>
<path d="M688,466 C700,454 714,444 726,440 C722,448 708,458 690,467Z"/>
<path d="M690,468 C704,462 716,458 730,458 C724,464 708,468 692,469Z"/>
<path d="M688,476 C696,492 702,506 706,518 C700,512 692,496 688,477Z"/>
<path d="M690,475 C702,488 712,500 716,510 C708,504 698,492 690,476Z"/>
<path d="M692,474 C706,482 718,490 724,498 C716,496 704,488 692,475Z"/>
<rect x="759" y="418" width="4" height="4" transform="rotate(20 761 420)"/><rect x="753" y="431" width="4" height="4" transform="rotate(20 755 433)"/><rect x="745" y="443" width="4" height="4" transform="rotate(20 747 445)"/><rect x="734" y="455" width="4" height="4" transform="rotate(20 736 457)"/>
</g>
</g>

<!-- PANEL 3 content -->
<defs>
<clipPath id="cellClip"><path d="M686.4,712.8 L709.4,720.6 L671.8,798.1 L648.0,789.6Z"/>
<path d="M713.0,721.8 L734.2,729.0 L697.4,807.3 L675.4,799.5Z"/>
<path d="M737.8,730.2 L759.0,737.4 L723.0,816.5 L701.0,808.7Z"/>
<path d="M762.6,738.6 L785.6,746.4 L750.4,826.4 L726.6,817.9Z"/></clipPath>
<clipPath id="rimClip"><ellipse cx="718" cy="790" rx="108" ry="80" transform="rotate(8 718 790)"/></clipPath>
<clipPath id="clip3"><rect x="492.3" y="663" width="392.2" height="213.6" rx="29"/></clipPath>
<linearGradient id="rimG" x1="0" y1="0" x2="0" y2="1">
<stop offset="0" stop-color="#1a1a1a"/>
<stop offset="0.75" stop-color="#2a2a2a"/>
<stop offset="0.9" stop-color="#383838"/>
<stop offset="1" stop-color="#262626"/>
</linearGradient>
<radialGradient id="topFaceG" cx="0.6" cy="0.3" r="0.8">
<stop offset="0" stop-color="#1e1e1e"/>
<stop offset="1" stop-color="#111"/>
</radialGradient>
<linearGradient id="cellG" x1="0" y1="0" x2="1" y2="1">
<stop offset="0" stop-color="#18283e"/>
<stop offset="0.5" stop-color="#1e3450"/>
<stop offset="1" stop-color="#172a40"/>
</linearGradient>
</defs>
<g clip-path="url(#clip3)">
<!-- arm -->
<path d="M557,660 L581,660 L610,698 L590,712Z" fill="#121212"/>
<path d="M565,660 L576,660 L600,692 L594,697Z" fill="#2c2c2c" opacity="0.55"/>
<path d="M583,696 L615,693 L628,703 L608,722 L596,716Z" fill="#1a1a1a"/>
<!-- housing rim -->
<ellipse cx="718" cy="790" rx="108" ry="80" transform="rotate(8 718 790)" fill="url(#rimG)"/>
<g clip-path="url(#rimClip)" fill="none">
<ellipse cx="718" cy="782" rx="110" ry="80" transform="rotate(8 718 782)" stroke="#474747" stroke-width="1.5"/>
<ellipse cx="718" cy="786" rx="110" ry="80" transform="rotate(8 718 786)" stroke="#1a1a1a" stroke-width="1.5"/>
</g>
<!-- top face -->
<ellipse cx="716" cy="766" rx="108" ry="77" transform="rotate(8 716 766)" fill="url(#topFaceG)"/>
<!-- hinge -->
<g transform="rotate(32 614 725)">
<rect x="600" y="693" width="28" height="63" rx="12" fill="#141414"/>
<rect x="604" y="703" width="7" height="44" rx="3.5" fill="#2e2e2e" opacity="0.6"/>
<path d="M601,703 C604,694 624,694 627,703" stroke="#3a3a3a" stroke-width="1.2" fill="none"/>
<path d="M602,745 C606,752 622,752 626,745" stroke="#3c3c3c" stroke-width="1.4" fill="none"/>
<ellipse cx="614" cy="752" rx="5" ry="2.5" fill="#050505"/>
</g>
<!-- panel frame -->
<path d="M681.6,693.2 L798,732.8 L753.6,840.8 L640.8,792.8Z" fill="#080808"/>
<path d="M681.6,693.2 L798,732.8" stroke="#888" stroke-width="1.2"/>
<path d="M640.8,792.8 L753.6,840.8" stroke="#9a9a9a" stroke-width="1.2"/>
<path d="M681.6,693.2 L640.8,792.8" stroke="#2a2a2a" stroke-width="1"/>
<g fill="url(#cellG)">
<path d="M686.4,712.8 L709.4,720.6 L671.8,798.1 L648.0,789.6Z"/>
<path d="M713.0,721.8 L734.2,729.0 L697.4,807.3 L675.4,799.5Z"/>
<path d="M737.8,730.2 L759.0,737.4 L723.0,816.5 L701.0,808.7Z"/>
<path d="M762.6,738.6 L785.6,746.4 L750.4,826.4 L726.6,817.9Z"/>
</g>
<g clip-path="url(#cellClip)"><path d="M687.6,713.2 L649.3,790.1 M690.1,714.1 L651.8,791.0 M692.6,714.9 L654.4,791.9 M695.1,715.7 L657.0,792.8 M697.6,716.6 L659.5,793.7 M700.0,717.4 L662.1,794.7 M702.5,718.3 L664.6,795.6 M705.0,719.1 L667.2,796.5 M707.5,719.9 L669.8,797.4 M710.0,720.8 L672.3,798.3 M712.4,721.6 L674.9,799.3 M714.9,722.5 L677.4,800.2 M717.4,723.3 L680.0,801.1 M719.9,724.1 L682.6,802.0 M722.4,725.0 L685.1,802.9 M724.8,725.8 L687.7,803.9 M727.3,726.7 L690.2,804.8 M729.8,727.5 L692.8,805.7 M732.3,728.3 L695.4,806.6 M734.8,729.2 L697.9,807.5 M737.2,730.0 L700.5,808.5 M739.7,730.9 L703.0,809.4 M742.2,731.7 L705.6,810.3 M744.7,732.5 L708.2,811.2 M747.2,733.4 L710.7,812.1 M749.6,734.2 L713.3,813.1 M752.1,735.1 L715.8,814.0 M754.6,735.9 L718.4,814.9 M757.1,736.7 L721.0,815.8 M759.6,737.6 L723.5,816.7 M762.0,738.4 L726.1,817.7 M764.5,739.3 L728.6,818.6 M767.0,740.1 L731.2,819.5 M769.5,740.9 L733.8,820.4 M772.0,741.8 L736.3,821.3 M774.4,742.6 L738.9,822.3 M776.9,743.5 L741.4,823.2 M779.4,744.3 L744.0,824.1 M781.9,745.1 L746.6,825.0 M784.4,746.0 L749.1,825.9" stroke="#3c5a7c" stroke-width="1" opacity="0.75"/></g>
</g>

<!-- LEFT LAMP -->
<defs>
<clipPath id="moonClip"><path d="M261.7,81 C240,63 215,56 190,57 C152,59 118,80 104,108 C92,132 90,170 96,195 C106,228 138,256 180,265 C208,268 235,259 251.3,248 C232,251 206,251 180,246 C156,238 140,220 133,198 C128,178 128,150 133,125 C142,100 165,84 192,79 C220,76 245,78 261.7,81 Z"/></clipPath>
<linearGradient id="stripG" x1="0" y1="0" x2="0" y2="1"><stop offset="0" stop-color="#d88c4a"/><stop offset="0.6" stop-color="#d08444"/><stop offset="1" stop-color="#c07a40" stop-opacity="0"/></linearGradient>
<radialGradient id="blobHi" cx="0.5" cy="0.5" r="0.5">
<stop offset="0" stop-color="#ffffff" stop-opacity="1"/>
<stop offset="0.45" stop-color="#f4e4d4" stop-opacity="0.85"/>
<stop offset="1" stop-color="#c08050" stop-opacity="0"/>
</radialGradient>
<radialGradient id="blobCu" cx="0.5" cy="0.5" r="0.5">
<stop offset="0" stop-color="#c8864a" stop-opacity="0.95"/>
<stop offset="1" stop-color="#b07040" stop-opacity="0"/>
</radialGradient>
<radialGradient id="blobDk" cx="0.5" cy="0.5" r="0.5">
<stop offset="0" stop-color="#2e1e12" stop-opacity="0.9"/>
<stop offset="1" stop-color="#3a2616" stop-opacity="0"/>
</radialGradient>
<radialGradient id="ballG" cx="0.5" cy="0.65" r="0.65">
<stop offset="0" stop-color="#f2f4f4"/>
<stop offset="0.6" stop-color="#d4d8d8"/>
<stop offset="1" stop-color="#9aa0a0"/>
</radialGradient>
<linearGradient id="wingUp" x1="0" y1="0" x2="1" y2="0.6">
<stop offset="0" stop-color="#d08a48"/>
<stop offset="0.45" stop-color="#8a5a30"/>
<stop offset="1" stop-color="#3a2410"/>
</linearGradient>
</defs>
<g id="lamp">
<g clip-path="url(#moonClip)">
<rect x="85" y="50" width="185" height="225" fill="#4e3420"/>
<ellipse cx="205" cy="66" rx="50" ry="12" fill="url(#blobCu)"/>
<ellipse cx="120" cy="95" rx="25" ry="20" fill="url(#blobCu)" opacity="0.7"/>
<ellipse cx="108" cy="150" rx="16" ry="30" fill="url(#blobDk)"/>
<ellipse cx="160" cy="80" rx="25" ry="10" fill="url(#blobDk)" opacity="0.6"/>
<ellipse cx="114" cy="205" rx="30" ry="17" transform="rotate(30 114 205)" fill="url(#blobHi)" opacity="0.9"/>
<ellipse cx="135" cy="240" rx="20" ry="10" fill="url(#blobCu)" opacity="0.8"/>
<ellipse cx="215" cy="258" rx="40" ry="10" fill="url(#blobCu)" opacity="0.6"/>
<ellipse cx="175" cy="258" rx="20" ry="8" fill="url(#blobDk)" opacity="0.5"/>
<!-- inner copper strip -->
<path d="M261.7,81 C245,78 220,76 192,79 C165,84 142,100 133,125 C128,150 128,175 133,198" stroke="url(#stripG)" stroke-width="8" fill="none"/>
<path d="M255,79 C238,77 218,76 192,79 C165,84 142,100 133,125 C128,150 128,178 133,198" stroke="#e8aa70" stroke-width="1.5" fill="none" opacity="0.8"/>
<path d="M104,108 C120,80 150,62 188,58" stroke="#b07040" stroke-width="2" fill="none" opacity="0.7"/>
</g>
<!-- star cutouts -->
<g fill="#fff">
<path d="M101,143 L108,146 L114,140 L113,148 L119,153 L111,154 L109,162 L106,155 L99,155 L104,150Z"/>
<path d="M157,70 L162,75 L157,80 L152,75Z"/>
<path d="M126,224 L133,226 L137,220 L137,228 L144,232 L136,233 L133,240 L131,233 L124,231 L130,228Z"/>
<ellipse cx="165" cy="265" rx="2.6" ry="2" />
<circle cx="195" cy="263" r="1.6"/>
<circle cx="221" cy="259" r="1.4"/>
<path d="M188,59 l3,-1 1,2 -3,1z"/>
</g>
<g stroke="#d89050" stroke-width="1.1" fill="none" opacity="0.95">
<path d="M121,100 l8,5 M129,99 l-8,6 M125,97 v10"/>
<path d="M104,121 l7,5 M111,120 l-7,6 M108,118 v10"/>
<path d="M139,87 l7,5 M146,87 l-7,5"/>


</g>
<!-- hook & crystal -->
<path d="M259,80 C268,86 273,96 271,104 C269,111 262,113 257,111 C253,108 254,101 258,100 C261,99 263,101 263,104" stroke="#7a4e2a" stroke-width="1.8" fill="none"/>
<path d="M256,111 C254,112 253,113 252,113" stroke="#7a4e2a" stroke-width="1.4" fill="none"/>
<circle cx="250.5" cy="110.5" r="3" stroke="#b08050" stroke-width="1.4" fill="none"/>
<path d="M251,114 L253,118" stroke="#555" stroke-width="1.5"/>
<path d="M249,117 L255,117 C259,127 264,140 264,151 C264,160 259,165.5 253,165.5 C247,165.5 242,160 242,151 C242,140 246,127 249,117Z" fill="#e9e8ec" stroke="#b8b8be" stroke-width="0.8"/>
<g fill="#8a8a90" opacity="0.6">
<path d="M249,119 L251,119 L249,134 L247,136Z"/>
<path d="M253,120 L255,120 L258,136 L255,137Z"/>
<path d="M245,140 L249,139 L248,147 L244,146Z"/>
<path d="M261,145 L264,150 L262,156Z"/>
</g>
<ellipse cx="253" cy="154" rx="9.5" ry="10" fill="#e2e1e6"/>
<!-- ball -->
<ellipse cx="186.4" cy="220" rx="30" ry="26.5" fill="url(#ballG)"/>
<g>
<path d="M178.7,194.9 L181.9,194.8 L181.8,194.3 L181.6,194.3 L180.6,194.5 L179.7,194.7 L178.8,194.9Z" fill="#5e6666" fill-opacity="0.26"/>
<path d="M182.8,194.2 L182.9,195.0 L184.0,195.8 L186.1,194.0 L185.4,194.0 L184.5,194.1 L183.5,194.1Z" fill="#6a7272" fill-opacity="0.26"/>
<path d="M166.7,200.6 L167.4,201.1 L170.7,199.7 L171.0,197.8 L170.8,197.9 L170.0,198.4 L169.2,198.9 L168.4,199.4 L167.7,199.9 L166.9,200.5Z" fill="#7a8282" fill-opacity="0.12"/>
<path d="M176.8,195.8 L176.3,195.6 L176.0,195.7 L175.1,196.0 L174.2,196.3 L173.3,196.7 L172.5,197.1 L172.1,197.3 L171.7,199.9 L175.5,202.7 L175.7,202.5Z" fill="#7a8282" fill-opacity="0.29"/>
<path d="M184.1,199.4 L183.5,196.7 L182.3,195.8 L177.8,195.9 L176.8,202.1 L183.5,199.9Z" fill="#6a7272" fill-opacity="0.26"/>
<path d="M184.5,196.6 L185.1,199.3 L186.8,200.4 L191.2,200.8 L194.0,194.9 L193.1,194.7 L192.2,194.5 L191.2,194.3 L190.3,194.2 L189.3,194.1 L188.3,194.1 L187.7,194.0Z" fill="#5e6666" fill-opacity="0.08"/>
<path d="M195.0,195.1 L192.1,201.2 L193.6,202.7 L199.8,199.3 L197.5,195.9 L196.8,195.7 L195.9,195.4Z" fill="#6a7272" fill-opacity="0.14"/>
<path d="M199.2,196.6 L200.9,199.0 L203.1,200.0 L204.2,199.3 L203.6,198.9 L202.8,198.4 L202.0,197.9 L201.2,197.5 L200.3,197.1 L199.5,196.7Z" fill="#8a9292" fill-opacity="0.21"/>
<path d="M163.3,206.4 L166.4,205.5 L166.8,201.9 L165.9,201.3 L165.5,201.6 L164.8,202.2 L164.2,202.9 L163.6,203.5 L163.0,204.2 L162.4,204.9 L162.2,205.1Z" fill="#5e6666" fill-opacity="0.25"/>
<path d="M175.0,205.2 L175.0,203.6 L171.1,200.7 L167.8,202.0 L167.4,205.7 L168.1,206.4Z" fill="#7a8282" fill-opacity="0.10"/>
<path d="M176.4,203.3 L176.0,203.6 L175.9,205.5 L176.3,206.5 L181.2,207.2 L183.0,201.1Z" fill="#6a7272" fill-opacity="0.13"/>
<path d="M182.1,207.7 L182.6,208.2 L186.3,205.9 L186.2,201.1 L184.7,200.2 L184.2,200.6Z" fill="#6a7272" fill-opacity="0.28"/>
<path d="M193.1,203.6 L191.3,201.8 L187.2,201.4 L187.3,206.0 L189.7,209.0 L191.1,208.8 L193.8,206.2Z" fill="#5e6666" fill-opacity="0.14"/>
<path d="M196.7,206.9 L202.4,202.7 L202.6,200.9 L200.6,200.0 L194.1,203.6 L194.8,206.0Z" fill="#6a7272" fill-opacity="0.15"/>
<path d="M210.5,205.1 L210.4,204.9 L209.8,204.2 L209.2,203.5 L208.6,202.9 L208.0,202.2 L207.3,201.6 L206.6,201.0 L205.9,200.5 L205.3,200.1 L205.1,199.9 L203.6,200.8 L203.4,202.9 L205.3,206.3Z" fill="#7a8282" fill-opacity="0.20"/>
<path d="M158.9,210.6 L160.4,211.0 L162.5,207.1 L161.6,206.0 L161.3,206.3 L160.8,207.0 L160.4,207.8 L159.9,208.5 L159.5,209.3 L159.1,210.1Z" fill="#6a7272" fill-opacity="0.22"/>
<path d="M165.2,213.0 L168.1,210.4 L167.4,207.2 L166.7,206.4 L163.4,207.4 L161.2,211.5 L162.5,213.2Z" fill="#7a8282" fill-opacity="0.23"/>
<path d="M174.1,212.1 L175.5,206.9 L175.1,206.1 L168.5,207.3 L169.1,210.2Z" fill="#6a7272" fill-opacity="0.23"/>
<path d="M175.0,212.5 L180.7,213.4 L182.9,212.5 L182.0,209.1 L181.2,208.2 L176.4,207.5Z" fill="#7a8282" fill-opacity="0.13"/>
<path d="M188.9,209.6 L186.7,206.9 L183.0,209.1 L183.9,212.4 L185.4,213.0Z" fill="#6a7272" fill-opacity="0.26"/>
<path d="M191.9,209.4 L194.0,214.5 L198.8,212.3 L198.9,211.7 L196.5,207.9 L194.5,207.0Z" fill="#7a8282" fill-opacity="0.17"/>
<path d="M202.8,203.7 L197.5,207.6 L199.6,211.0 L204.2,208.9 L204.6,207.0Z" fill="#6a7272" fill-opacity="0.18"/>
<path d="M211.1,206.0 L205.5,207.3 L205.2,209.1 L209.4,213.1 L212.5,211.6 L211.6,206.5 L211.6,206.5Z" fill="#6a7272" fill-opacity="0.24"/>
<path d="M213.1,208.9 L213.5,211.5 L213.9,211.6 L214.3,211.5 L214.0,210.9 L213.7,210.1 L213.3,209.3Z" fill="#5e6666" fill-opacity="0.28"/>
<path d="M157.1,217.2 L158.6,217.9 L161.0,217.2 L161.8,213.9 L160.3,212.0 L158.5,211.5 L158.5,211.7 L158.2,212.5 L157.9,213.3 L157.7,214.1 L157.5,214.9 L157.3,215.8 L157.2,216.6Z" fill="#8a9292" fill-opacity="0.14"/>
<path d="M164.1,220.8 L169.1,218.2 L165.2,214.0 L162.7,214.2 L161.9,217.5Z" fill="#7a8282" fill-opacity="0.17"/>
<path d="M172.5,217.8 L173.9,213.1 L168.8,211.2 L166.1,213.5 L170.1,217.9 L172.0,218.1Z" fill="#7a8282" fill-opacity="0.27"/>
<path d="M179.1,220.8 L180.2,214.3 L174.8,213.4 L173.5,218.0 L178.4,221.4Z" fill="#6a7272" fill-opacity="0.09"/>
<path d="M185.2,214.0 L183.5,213.3 L181.2,214.3 L180.2,220.4 L185.2,219.2 L187.0,217.5Z" fill="#8a9292" fill-opacity="0.28"/>
<path d="M189.8,210.1 L186.1,213.7 L187.9,217.2 L188.6,217.4 L193.2,215.2 L193.2,215.1 L191.0,209.8Z" fill="#7a8282" fill-opacity="0.10"/>
<path d="M194.1,215.5 L197.1,219.8 L201.6,218.0 L199.1,213.3Z" fill="#5e6666" fill-opacity="0.18"/>
<path d="M199.9,212.0 L199.8,212.5 L202.7,217.8 L205.0,218.9 L207.5,216.1 L208.7,213.8 L204.6,209.8Z" fill="#5e6666" fill-opacity="0.28"/>
<path d="M209.6,214.1 L208.6,216.2 L214.2,219.2 L215.4,217.0 L213.5,212.5 L213.1,212.4Z" fill="#6a7272" fill-opacity="0.22"/>
<path d="M214.5,212.4 L214.9,213.3 L214.6,212.5 L214.6,212.4Z" fill="#8a9292" fill-opacity="0.14"/>
<path d="M156.9,220.6 L157.9,218.7 L157.0,218.2 L157.0,218.3 L156.9,219.2 L156.9,220.0Z" fill="#8a9292" fill-opacity="0.13"/>
<path d="M157.1,222.6 L157.2,223.4 L157.3,224.2 L157.4,224.8 L157.7,225.1 L163.3,223.8 L163.4,221.6 L161.2,218.1 L158.9,218.9Z" fill="#8a9292" fill-opacity="0.09"/>
<path d="M171.4,219.0 L170.0,218.9 L164.4,221.8 L164.2,224.0 L164.7,224.6 L170.6,222.2Z" fill="#5e6666" fill-opacity="0.17"/>
<path d="M178.0,222.9 L178.0,222.3 L172.9,218.8 L172.5,218.9 L171.5,222.6 L172.4,226.0Z" fill="#6a7272" fill-opacity="0.09"/>
<path d="M179.0,223.1 L185.2,223.8 L185.0,220.3 L179.8,221.6 L179.0,222.3Z" fill="#6a7272" fill-opacity="0.20"/>
<path d="M186.0,219.9 L186.2,224.2 L187.2,226.2 L191.8,224.0 L188.3,218.4 L187.7,218.2Z" fill="#6a7272" fill-opacity="0.23"/>
<path d="M193.4,216.2 L189.4,218.1 L192.8,223.8 L194.1,224.2 L196.4,220.4Z" fill="#5e6666" fill-opacity="0.09"/>
<path d="M195.1,224.5 L204.2,224.2 L205.5,223.3 L204.7,219.8 L202.3,218.8 L197.3,220.8Z" fill="#8a9292" fill-opacity="0.25"/>
<path d="M205.6,219.6 L206.5,223.2 L207.7,224.0 L214.0,223.3 L213.9,220.2 L208.0,217.0Z" fill="#7a8282" fill-opacity="0.19"/>
<path d="M215.6,223.8 L215.6,223.4 L215.8,222.5 L215.8,221.7 L215.9,220.8 L215.9,220.0 L215.9,219.2 L215.8,218.3 L215.8,218.3 L214.9,220.0 L215.0,223.5Z" fill="#7a8282" fill-opacity="0.09"/>
<path d="M158.7,229.0 L163.1,232.1 L164.9,227.1 L164.1,225.4 L163.5,224.8 L158.2,226.0 L158.3,227.8 L158.5,228.3Z" fill="#5e6666" fill-opacity="0.11"/>
<path d="M170.7,223.3 L165.2,225.4 L165.8,226.6 L171.0,227.8 L171.5,226.7Z" fill="#6a7272" fill-opacity="0.27"/>
<path d="M171.8,228.4 L172.3,229.3 L179.2,227.4 L178.3,223.9 L172.4,227.1Z" fill="#5e6666" fill-opacity="0.13"/>
<path d="M180.3,227.5 L180.6,227.9 L185.8,228.0 L186.4,226.8 L185.4,224.8 L179.3,224.1Z" fill="#5e6666" fill-opacity="0.10"/>
<path d="M186.6,228.5 L187.1,229.6 L193.4,230.2 L194.7,228.5 L194.0,225.3 L194.0,225.2 L192.5,224.7 L187.3,227.2Z" fill="#7a8282" fill-opacity="0.21"/>
<path d="M200.9,229.5 L203.4,225.2 L195.1,225.5 L195.6,228.3 L199.1,230.0Z" fill="#8a9292" fill-opacity="0.23"/>
<path d="M206.0,224.1 L204.7,225.0 L201.9,229.8 L205.3,232.9 L207.8,232.3 L208.6,231.2 L207.1,224.8Z" fill="#5e6666" fill-opacity="0.27"/>
<path d="M209.5,230.9 L210.9,231.1 L214.1,228.9 L214.3,228.3 L214.6,227.5 L214.9,226.7 L215.1,225.9 L215.3,225.1 L215.4,224.9 L214.4,224.3 L208.2,225.0Z" fill="#6a7272" fill-opacity="0.10"/>
<path d="M159.6,230.9 L159.9,231.5 L160.4,232.2 L160.8,233.0 L161.3,233.7 L161.9,234.4 L162.1,234.8 L162.9,233.9 L162.8,233.1Z" fill="#7a8282" fill-opacity="0.29"/>
<path d="M165.8,227.6 L163.8,232.9 L163.9,233.6 L166.6,234.3 L171.7,232.1 L171.5,230.0 L170.9,228.8Z" fill="#6a7272" fill-opacity="0.12"/>
<path d="M172.6,230.3 L172.7,232.2 L174.3,233.7 L178.9,233.0 L179.8,228.5 L179.6,228.3Z" fill="#8a9292" fill-opacity="0.24"/>
<path d="M179.9,233.3 L181.1,234.6 L186.2,233.2 L186.2,230.1 L185.7,229.0 L180.8,228.9Z" fill="#7a8282" fill-opacity="0.14"/>
<path d="M193.1,231.2 L187.2,230.6 L187.2,233.4 L189.5,236.0 L192.1,236.0Z" fill="#8a9292" fill-opacity="0.09"/>
<path d="M193.8,236.9 L198.5,236.3 L198.5,230.9 L195.3,229.3 L194.1,230.9 L193.1,236.3Z" fill="#8a9292" fill-opacity="0.15"/>
<path d="M201.5,237.5 L204.5,233.5 L201.1,230.5 L199.5,230.9 L199.5,236.4Z" fill="#5e6666" fill-opacity="0.22"/>
<path d="M209.5,236.1 L209.8,235.8 L210.4,235.1 L210.9,234.4 L211.5,233.7 L211.9,233.0 L210.8,232.1 L209.3,231.9 L208.6,232.8Z" fill="#5e6666" fill-opacity="0.20"/>
<path d="M211.9,231.6 L212.5,232.1 L212.9,231.5 L213.3,230.7 L213.3,230.7Z" fill="#8a9292" fill-opacity="0.10"/>
<path d="M167.4,239.9 L168.3,239.1 L166.3,235.2 L163.6,234.6 L162.8,235.6 L163.0,235.8 L163.6,236.5 L164.2,237.1 L164.8,237.8 L165.5,238.4 L166.2,239.0 L166.9,239.5Z" fill="#5e6666" fill-opacity="0.13"/>
<path d="M169.3,238.8 L171.9,239.3 L173.2,238.4 L173.6,234.5 L172.1,233.0 L167.3,235.0Z" fill="#8a9292" fill-opacity="0.11"/>
<path d="M174.2,238.4 L180.1,241.7 L180.8,241.6 L180.4,235.4 L179.1,234.0 L174.6,234.7Z" fill="#7a8282" fill-opacity="0.13"/>
<path d="M188.6,236.5 L186.5,234.2 L181.4,235.5 L181.9,241.7 L182.8,242.2 L185.1,241.1Z" fill="#7a8282" fill-opacity="0.16"/>
<path d="M192.4,243.7 L193.4,242.1 L193.2,237.7 L192.3,237.0 L189.5,237.0 L186.3,241.2Z" fill="#8a9292" fill-opacity="0.26"/>
<path d="M202.5,241.4 L201.2,238.5 L198.9,237.2 L194.2,237.8 L194.4,241.8 L200.1,243.0 L200.3,242.9 L201.2,242.5 L201.7,242.2Z" fill="#5e6666" fill-opacity="0.18"/>
<path d="M203.6,241.1 L204.4,240.6 L205.1,240.1 L205.9,239.5 L206.6,239.0 L207.3,238.4 L208.0,237.8 L208.6,237.1 L208.7,237.0 L207.7,233.3 L205.4,233.9 L202.2,238.2 L203.5,241.1Z" fill="#7a8282" fill-opacity="0.25"/>
<path d="M171.3,242.4 L171.5,240.2 L169.1,239.8 L168.3,240.5 L168.4,240.6 L169.2,241.1 L170.0,241.6 L170.8,242.1Z" fill="#6a7272" fill-opacity="0.23"/>
<path d="M179.1,242.2 L173.7,239.2 L172.5,240.1 L172.3,242.8 L172.5,242.9 L173.3,243.3 L174.2,243.7 L175.1,244.0 L176.0,244.3 L176.5,244.5Z" fill="#6a7272" fill-opacity="0.23"/>
<path d="M177.6,244.8 L177.8,244.9 L178.8,245.1 L179.7,245.3 L180.6,245.5 L181.6,245.7 L182.5,245.8 L183.0,245.8 L182.3,243.1 L181.3,242.5 L180.2,242.6Z" fill="#5e6666" fill-opacity="0.10"/>
<path d="M192.1,245.5 L192.1,244.6 L185.5,242.0 L183.3,243.1 L184.0,245.9 L184.5,245.9 L185.4,246.0 L186.4,246.0 L187.4,246.0 L188.3,245.9 L189.3,245.9 L190.3,245.8 L191.2,245.7Z" fill="#5e6666" fill-opacity="0.25"/>
<path d="M194.1,242.8 L193.1,244.5 L193.1,245.3 L193.1,245.3 L194.0,245.1 L195.0,244.9 L195.9,244.6 L196.8,244.3 L197.7,244.0 L198.5,243.7Z" fill="#7a8282" fill-opacity="0.09"/>
</g>
<path d="M176,245 L206,245 L204,251 L179,251Z" fill="#1e1a16"/>
<!-- spiral rings -->
<g fill="none" stroke="#2a1c12" stroke-width="1.6">
<path d="M186,186 C184,190 178,190 174,192 C168,194 162,196 163,199 C175,196 196,194 206,196"/>
<path d="M156,212 C152,214 154,216 158,216"/>
<path d="M156,228 C152,230 154,232 158,232"/>
</g>
<g fill="none" stroke="#9a6a40" stroke-width="2.4">
<path d="M155.6,213 C175,210 205,206 219.6,207"/>
<path d="M155.6,229 C178,226 205,222 221,221"/>
</g>
<g fill="none" stroke="#dcae80" stroke-width="0.8">
<path d="M156,212 C175,209 205,205 219,206"/>
<path d="M156,228 C178,225 205,221 220,220"/>
</g>
<!-- fairy -->
<path d="M142,116 C152,119 163,125 172,132 C179,139 183,148 184,157 L183,163 C176,161 169,159 162,157 C158,153 156,150 153,147 C150,142 148,137 146,131 C144,126 143,121 142,116Z" fill="url(#wingUp)"/>
<g fill="#fff">
<path d="M181,158 C177,152 174,145 175,138 C179,142 182,150 181,158Z"/>
<path d="M180,159 C175,156 170,151 168,146 C173,148 178,153 180,159Z"/>
<path d="M179,160 C173,159 167,156 164,153 C170,153 175,156 179,160Z"/>
<circle cx="147.5" cy="124" r="1.5"/><circle cx="149.5" cy="132" r="1.5"/><circle cx="152.5" cy="140" r="1.5"/><circle cx="157" cy="148" r="1.5"/>
</g>
<path d="M183,163 C174,163 160,165 150,169 C148,175 150,183 154,190 C151,192 151,197 156,198 C161,198 165,195 168,191 C174,185 179,176 183,163Z" fill="#d9a052"/>
<g stroke="#fff" stroke-width="1.4" fill="none" stroke-linecap="round">
<path d="M180,166 L156,172 M180,168 L157,179 M180,170 L161,185 M181,172 L166,189"/>
</g>
<g fill="#dca050">
<path d="M185,148 C184,144 189,141 193,142 C197,141 200,145 198,149 C197,152 195,154 194,156 L191,158 C187,157 185,152 185,148Z"/>
<path d="M188,157 L193,157 C194,161 193,166 191,170 C192,174 195,176 196,177 L224,156 C226,154 228,155 227,157 L201,181 C203,184 206,187 210,188 L219,189 L219,191 L209,191 C204,190 200,187 197,184 C193,187 185,187 181,183 C178,179 181,172 186,168 C187,164 188,160 188,157Z"/>
<path d="M190,165 L205,157 L207,154 L209,156 L192,169Z"/>
</g>
<path d="M180,179 C182,186 192,188 198,184 L196,187 C190,190 180,188 180,179Z" fill="#6a5040"/>
<path d="M186,186 L186,191 M175,193 C180,190 194,190 199,193" stroke="#2a2018" stroke-width="1.3" fill="none"/>
<circle cx="188" cy="175" r="1.7" fill="#fff"/>
<!-- stem top -->
<rect x="185" y="262" width="8" height="6" fill="#2a2018"/>
</g>

<!-- pole -->
<path d="M184.5 266 L192.5 266 L193.6 975 L189.5 1000 L186.5 975 Z" fill="#121212"/>
<path d="M109.8 993 L109.8 876 Q109.8 873 113 873 L188 877" stroke="#121212" stroke-width="3.4" fill="none"/>
<!-- solar puck on pole -->
<rect x="157" y="375" width="27" height="9" rx="1.5" fill="#141414"/>
<path d="M127,392 L127,413 C127,421 145,426 166,426 C188,426 205.5,421 205.5,413 L205.5,392Z" fill="#1e1e1e"/>
<path d="M128,408 C135,416 150,419 166,419 C185,419 198,416 205,408" stroke="#2e2e2e" stroke-width="1.2" fill="none"/>
<ellipse cx="166.3" cy="392" rx="39.3" ry="10.5" fill="#161616"/>
<path d="M138,385 L194,386 L186,400 L141,400Z" fill="#333436"/>
<path d="M140,386 L141,399 M192,386 L187,399" stroke="#8a8a8a" stroke-width="0.8"/>
<path d="M184.2,380 L191.8,380 L191.8,398 L184.2,398Z" fill="#141414"/>

</svg>
</body></html>
